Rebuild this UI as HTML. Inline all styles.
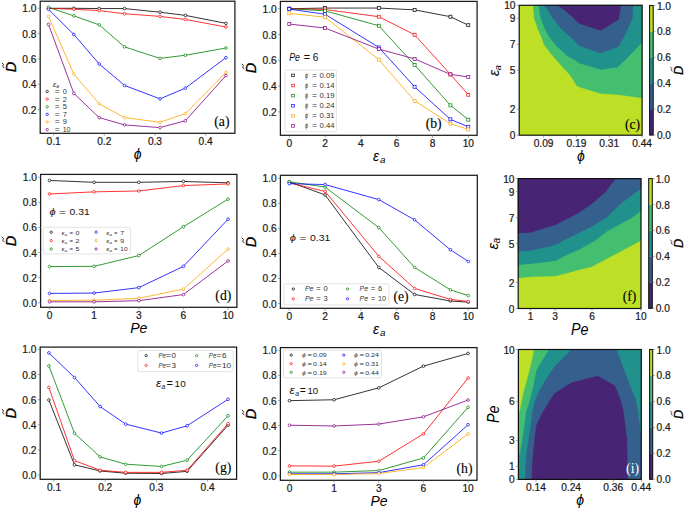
<!DOCTYPE html><html><head><meta charset="utf-8"><style>html,body{margin:0;padding:0;background:#fff;overflow:hidden;width:685px;height:509px;}svg{display:block}</style></head><body>
<svg width="685" height="509" viewBox="0 0 685 509">
<rect width="685" height="509" fill="#fff"/>
<path d="M48.5,8.3 L73.85,8.3 L99.2,8.55 L124.55,8.55 L160.04,12.22 L185.39,15.38 L225.95,23.35" fill="none" stroke="#000000" stroke-width="0.8" stroke-linejoin="round"/>
<circle cx="48.5" cy="8.3" r="1.35" fill="#fff" stroke="#000000" stroke-width="0.7"/>
<circle cx="73.85" cy="8.3" r="1.35" fill="#fff" stroke="#000000" stroke-width="0.7"/>
<circle cx="99.2" cy="8.55" r="1.35" fill="#fff" stroke="#000000" stroke-width="0.7"/>
<circle cx="124.55" cy="8.55" r="1.35" fill="#fff" stroke="#000000" stroke-width="0.7"/>
<circle cx="160.04" cy="12.22" r="1.35" fill="#fff" stroke="#000000" stroke-width="0.7"/>
<circle cx="185.39" cy="15.38" r="1.35" fill="#fff" stroke="#000000" stroke-width="0.7"/>
<circle cx="225.95" cy="23.35" r="1.35" fill="#fff" stroke="#000000" stroke-width="0.7"/>
<path d="M48.5,8.3 L73.85,9.31 L99.2,10.58 L124.55,13.74 L160.04,16.4 L185.39,19.43 L225.95,27.02" fill="none" stroke="#ff0000" stroke-width="0.8" stroke-linejoin="round"/>
<circle cx="48.5" cy="8.3" r="1.35" fill="#fff" stroke="#ff0000" stroke-width="0.7"/>
<circle cx="73.85" cy="9.31" r="1.35" fill="#fff" stroke="#ff0000" stroke-width="0.7"/>
<circle cx="99.2" cy="10.58" r="1.35" fill="#fff" stroke="#ff0000" stroke-width="0.7"/>
<circle cx="124.55" cy="13.74" r="1.35" fill="#fff" stroke="#ff0000" stroke-width="0.7"/>
<circle cx="160.04" cy="16.4" r="1.35" fill="#fff" stroke="#ff0000" stroke-width="0.7"/>
<circle cx="185.39" cy="19.43" r="1.35" fill="#fff" stroke="#ff0000" stroke-width="0.7"/>
<circle cx="225.95" cy="27.02" r="1.35" fill="#fff" stroke="#ff0000" stroke-width="0.7"/>
<path d="M48.5,7.29 L73.85,15.89 L99.2,24.87 L124.55,46.88 L160.04,58.39 L185.39,55.23 L225.95,48.02" fill="none" stroke="#008000" stroke-width="0.8" stroke-linejoin="round"/>
<circle cx="48.5" cy="7.29" r="1.35" fill="#fff" stroke="#008000" stroke-width="0.7"/>
<circle cx="73.85" cy="15.89" r="1.35" fill="#fff" stroke="#008000" stroke-width="0.7"/>
<circle cx="99.2" cy="24.87" r="1.35" fill="#fff" stroke="#008000" stroke-width="0.7"/>
<circle cx="124.55" cy="46.88" r="1.35" fill="#fff" stroke="#008000" stroke-width="0.7"/>
<circle cx="160.04" cy="58.39" r="1.35" fill="#fff" stroke="#008000" stroke-width="0.7"/>
<circle cx="185.39" cy="55.23" r="1.35" fill="#fff" stroke="#008000" stroke-width="0.7"/>
<circle cx="225.95" cy="48.02" r="1.35" fill="#fff" stroke="#008000" stroke-width="0.7"/>
<path d="M48.5,9.31 L73.85,34.49 L99.2,63.96 L124.55,85.46 L160.04,98.87 L185.39,88.12 L225.95,57.64" fill="none" stroke="#0000ff" stroke-width="0.8" stroke-linejoin="round"/>
<circle cx="48.5" cy="9.31" r="1.35" fill="#fff" stroke="#0000ff" stroke-width="0.7"/>
<circle cx="73.85" cy="34.49" r="1.35" fill="#fff" stroke="#0000ff" stroke-width="0.7"/>
<circle cx="99.2" cy="63.96" r="1.35" fill="#fff" stroke="#0000ff" stroke-width="0.7"/>
<circle cx="124.55" cy="85.46" r="1.35" fill="#fff" stroke="#0000ff" stroke-width="0.7"/>
<circle cx="160.04" cy="98.87" r="1.35" fill="#fff" stroke="#0000ff" stroke-width="0.7"/>
<circle cx="185.39" cy="88.12" r="1.35" fill="#fff" stroke="#0000ff" stroke-width="0.7"/>
<circle cx="225.95" cy="57.64" r="1.35" fill="#fff" stroke="#0000ff" stroke-width="0.7"/>
<path d="M48.5,16.4 L73.85,74.08 L99.2,103.81 L124.55,117.6 L160.04,122.28 L185.39,113.55 L225.95,72.44" fill="none" stroke="#ffa500" stroke-width="0.8" stroke-linejoin="round"/>
<circle cx="48.5" cy="16.4" r="1.35" fill="#fff" stroke="#ffa500" stroke-width="0.7"/>
<circle cx="73.85" cy="74.08" r="1.35" fill="#fff" stroke="#ffa500" stroke-width="0.7"/>
<circle cx="99.2" cy="103.81" r="1.35" fill="#fff" stroke="#ffa500" stroke-width="0.7"/>
<circle cx="124.55" cy="117.6" r="1.35" fill="#fff" stroke="#ffa500" stroke-width="0.7"/>
<circle cx="160.04" cy="122.28" r="1.35" fill="#fff" stroke="#ffa500" stroke-width="0.7"/>
<circle cx="185.39" cy="113.55" r="1.35" fill="#fff" stroke="#ffa500" stroke-width="0.7"/>
<circle cx="225.95" cy="72.44" r="1.35" fill="#fff" stroke="#ffa500" stroke-width="0.7"/>
<path d="M48.5,24.37 L73.85,93.43 L99.2,117.6 L124.55,124.93 L160.04,127.59 L185.39,120.76 L225.95,75.6" fill="none" stroke="#800080" stroke-width="0.8" stroke-linejoin="round"/>
<circle cx="48.5" cy="24.37" r="1.35" fill="#fff" stroke="#800080" stroke-width="0.7"/>
<circle cx="73.85" cy="93.43" r="1.35" fill="#fff" stroke="#800080" stroke-width="0.7"/>
<circle cx="99.2" cy="117.6" r="1.35" fill="#fff" stroke="#800080" stroke-width="0.7"/>
<circle cx="124.55" cy="124.93" r="1.35" fill="#fff" stroke="#800080" stroke-width="0.7"/>
<circle cx="160.04" cy="127.59" r="1.35" fill="#fff" stroke="#800080" stroke-width="0.7"/>
<circle cx="185.39" cy="120.76" r="1.35" fill="#fff" stroke="#800080" stroke-width="0.7"/>
<circle cx="225.95" cy="75.6" r="1.35" fill="#fff" stroke="#800080" stroke-width="0.7"/>
<rect x="40.2" y="1.2" width="194.7" height="132.1" fill="none" stroke="#1a1a1a" stroke-width="1.25"/>
<line x1="37.8" y1="109.5" x2="40.2" y2="109.5" stroke="#666" stroke-width="0.6"/>
<text x="36.5" y="113.51" font-size="10.2" font-family='"Liberation Sans", sans-serif' font-style="normal" text-anchor="end" fill="#1a1a1a" stroke="#1a1a1a" stroke-width="0.22" textLength="14.15" lengthAdjust="spacingAndGlyphs">0.2</text>
<line x1="37.8" y1="84.2" x2="40.2" y2="84.2" stroke="#666" stroke-width="0.6"/>
<text x="36.5" y="88.21" font-size="10.2" font-family='"Liberation Sans", sans-serif' font-style="normal" text-anchor="end" fill="#1a1a1a" stroke="#1a1a1a" stroke-width="0.22" textLength="14.15" lengthAdjust="spacingAndGlyphs">0.4</text>
<line x1="37.8" y1="58.9" x2="40.2" y2="58.9" stroke="#666" stroke-width="0.6"/>
<text x="36.5" y="62.91" font-size="10.2" font-family='"Liberation Sans", sans-serif' font-style="normal" text-anchor="end" fill="#1a1a1a" stroke="#1a1a1a" stroke-width="0.22" textLength="14.15" lengthAdjust="spacingAndGlyphs">0.6</text>
<line x1="37.8" y1="33.6" x2="40.2" y2="33.6" stroke="#666" stroke-width="0.6"/>
<text x="36.5" y="37.61" font-size="10.2" font-family='"Liberation Sans", sans-serif' font-style="normal" text-anchor="end" fill="#1a1a1a" stroke="#1a1a1a" stroke-width="0.22" textLength="14.15" lengthAdjust="spacingAndGlyphs">0.8</text>
<line x1="37.8" y1="8.3" x2="40.2" y2="8.3" stroke="#666" stroke-width="0.6"/>
<text x="36.5" y="12.31" font-size="10.2" font-family='"Liberation Sans", sans-serif' font-style="normal" text-anchor="end" fill="#1a1a1a" stroke="#1a1a1a" stroke-width="0.22" textLength="14.15" lengthAdjust="spacingAndGlyphs">1.0</text>
<line x1="53.57" y1="133.3" x2="53.57" y2="135.7" stroke="#666" stroke-width="0.6"/>
<text x="53.57" y="144.9" font-size="10.2" font-family='"Liberation Sans", sans-serif' font-style="normal" text-anchor="middle" fill="#1a1a1a" stroke="#1a1a1a" stroke-width="0.22" textLength="14.15" lengthAdjust="spacingAndGlyphs">0.1</text>
<line x1="104.27" y1="133.3" x2="104.27" y2="135.7" stroke="#666" stroke-width="0.6"/>
<text x="104.27" y="144.9" font-size="10.2" font-family='"Liberation Sans", sans-serif' font-style="normal" text-anchor="middle" fill="#1a1a1a" stroke="#1a1a1a" stroke-width="0.22" textLength="14.15" lengthAdjust="spacingAndGlyphs">0.2</text>
<line x1="154.97" y1="133.3" x2="154.97" y2="135.7" stroke="#666" stroke-width="0.6"/>
<text x="154.97" y="144.9" font-size="10.2" font-family='"Liberation Sans", sans-serif' font-style="normal" text-anchor="middle" fill="#1a1a1a" stroke="#1a1a1a" stroke-width="0.22" textLength="14.15" lengthAdjust="spacingAndGlyphs">0.3</text>
<line x1="205.67" y1="133.3" x2="205.67" y2="135.7" stroke="#666" stroke-width="0.6"/>
<text x="205.67" y="144.9" font-size="10.2" font-family='"Liberation Sans", sans-serif' font-style="normal" text-anchor="middle" fill="#1a1a1a" stroke="#1a1a1a" stroke-width="0.22" textLength="14.15" lengthAdjust="spacingAndGlyphs">0.4</text>
<text x="52.7" y="86.7" font-size="7.0" font-family='"Liberation Sans", sans-serif' font-style="italic" fill="#333" textLength="3.7" lengthAdjust="spacingAndGlyphs">ε</text>
<text x="56.3" y="87.8" font-size="5.0" font-family='"Liberation Sans", sans-serif' font-style="italic" fill="#333" textLength="2.8" lengthAdjust="spacingAndGlyphs">a</text>
<circle cx="47.2" cy="91.5" r="1.2" fill="#fff" stroke="#000000" stroke-width="0.7"/>
<text x="54.8" y="94" font-size="7.2" font-family='"Liberation Sans", sans-serif' font-style="normal" fill="#333" textLength="4.9" lengthAdjust="spacingAndGlyphs">=</text>
<text x="62.7" y="94" font-size="7.2" font-family='"Liberation Sans", sans-serif' font-style="normal" fill="#333" textLength="4.1" lengthAdjust="spacingAndGlyphs">0</text>
<circle cx="47.2" cy="99.12" r="1.2" fill="#fff" stroke="#ff0000" stroke-width="0.7"/>
<text x="54.8" y="101.62" font-size="7.2" font-family='"Liberation Sans", sans-serif' font-style="normal" fill="#333" textLength="4.9" lengthAdjust="spacingAndGlyphs">=</text>
<text x="62.7" y="101.62" font-size="7.2" font-family='"Liberation Sans", sans-serif' font-style="normal" fill="#333" textLength="4.1" lengthAdjust="spacingAndGlyphs">2</text>
<circle cx="47.2" cy="106.74" r="1.2" fill="#fff" stroke="#008000" stroke-width="0.7"/>
<text x="54.8" y="109.24" font-size="7.2" font-family='"Liberation Sans", sans-serif' font-style="normal" fill="#333" textLength="4.9" lengthAdjust="spacingAndGlyphs">=</text>
<text x="62.7" y="109.24" font-size="7.2" font-family='"Liberation Sans", sans-serif' font-style="normal" fill="#333" textLength="4.1" lengthAdjust="spacingAndGlyphs">5</text>
<circle cx="47.2" cy="114.36" r="1.2" fill="#fff" stroke="#0000ff" stroke-width="0.7"/>
<text x="54.8" y="116.86" font-size="7.2" font-family='"Liberation Sans", sans-serif' font-style="normal" fill="#333" textLength="4.9" lengthAdjust="spacingAndGlyphs">=</text>
<text x="62.7" y="116.86" font-size="7.2" font-family='"Liberation Sans", sans-serif' font-style="normal" fill="#333" textLength="4.1" lengthAdjust="spacingAndGlyphs">7</text>
<circle cx="47.2" cy="121.98" r="1.2" fill="#fff" stroke="#ffa500" stroke-width="0.7"/>
<text x="54.8" y="124.48" font-size="7.2" font-family='"Liberation Sans", sans-serif' font-style="normal" fill="#333" textLength="4.9" lengthAdjust="spacingAndGlyphs">=</text>
<text x="62.7" y="124.48" font-size="7.2" font-family='"Liberation Sans", sans-serif' font-style="normal" fill="#333" textLength="4.1" lengthAdjust="spacingAndGlyphs">9</text>
<circle cx="47.2" cy="129.6" r="1.2" fill="#fff" stroke="#800080" stroke-width="0.7"/>
<text x="54.8" y="132.1" font-size="7.2" font-family='"Liberation Sans", sans-serif' font-style="normal" fill="#333" textLength="4.9" lengthAdjust="spacingAndGlyphs">=</text>
<text x="62.7" y="132.1" font-size="7.2" font-family='"Liberation Sans", sans-serif' font-style="normal" fill="#333" textLength="7.8" lengthAdjust="spacingAndGlyphs">10</text>
<text x="229.5" y="125.5" font-size="13.7" font-family='"Liberation Serif", serif' font-style="normal" text-anchor="end" fill="#000" stroke="#000" stroke-width="0.12">(a)</text>
<g transform="translate(16.1,67) rotate(-90)">
<text x="0" y="0" font-size="14.5" font-family='"Liberation Sans", sans-serif' font-style="italic" text-anchor="middle" fill="#000" stroke="#000" stroke-width="0.3">D</text>
<path d="M-0.71,-12.06 C0.06,-13.85 0.99,-13.51 1.5,-13 C2.01,-12.49 2.95,-12.15 3.71,-13.94" fill="none" stroke="#000" stroke-width="0.85" stroke-linecap="round"/>
</g>
<text x="137.6" y="158.5" font-size="14" font-family='"Liberation Sans", sans-serif' font-style="italic" text-anchor="middle" fill="#000" >ϕ</text>
<path d="M289.3,8.7 L325.1,8.06 L378.8,8.06 L414.6,9.86 L450.4,16.7 L468.3,25.21" fill="none" stroke="#000000" stroke-width="0.8" stroke-linejoin="round"/>
<rect x="287.81" y="7.21" width="2.97" height="2.97" fill="#fff" stroke="#000000" stroke-width="0.7"/>
<rect x="323.62" y="6.57" width="2.97" height="2.97" fill="#fff" stroke="#000000" stroke-width="0.7"/>
<rect x="377.31" y="6.57" width="2.97" height="2.97" fill="#fff" stroke="#000000" stroke-width="0.7"/>
<rect x="413.12" y="8.38" width="2.97" height="2.97" fill="#fff" stroke="#000000" stroke-width="0.7"/>
<rect x="448.91" y="15.21" width="2.97" height="2.97" fill="#fff" stroke="#000000" stroke-width="0.7"/>
<rect x="466.81" y="23.73" width="2.97" height="2.97" fill="#fff" stroke="#000000" stroke-width="0.7"/>
<path d="M289.3,8.7 L325.1,9.47 L378.8,16.7 L414.6,34.76 L450.4,74.36 L468.3,94.74" fill="none" stroke="#ff0000" stroke-width="0.8" stroke-linejoin="round"/>
<rect x="287.81" y="7.21" width="2.97" height="2.97" fill="#fff" stroke="#ff0000" stroke-width="0.7"/>
<rect x="323.62" y="7.99" width="2.97" height="2.97" fill="#fff" stroke="#ff0000" stroke-width="0.7"/>
<rect x="377.31" y="15.21" width="2.97" height="2.97" fill="#fff" stroke="#ff0000" stroke-width="0.7"/>
<rect x="413.12" y="33.27" width="2.97" height="2.97" fill="#fff" stroke="#ff0000" stroke-width="0.7"/>
<rect x="448.91" y="72.88" width="2.97" height="2.97" fill="#fff" stroke="#ff0000" stroke-width="0.7"/>
<rect x="466.81" y="93.26" width="2.97" height="2.97" fill="#fff" stroke="#ff0000" stroke-width="0.7"/>
<path d="M289.3,8.7 L325.1,10.89 L378.8,25.73 L414.6,64.94 L450.4,105.32 L468.3,119.64" fill="none" stroke="#008000" stroke-width="0.8" stroke-linejoin="round"/>
<rect x="287.81" y="7.21" width="2.97" height="2.97" fill="#fff" stroke="#008000" stroke-width="0.7"/>
<rect x="323.62" y="9.41" width="2.97" height="2.97" fill="#fff" stroke="#008000" stroke-width="0.7"/>
<rect x="377.31" y="24.24" width="2.97" height="2.97" fill="#fff" stroke="#008000" stroke-width="0.7"/>
<rect x="413.12" y="63.46" width="2.97" height="2.97" fill="#fff" stroke="#008000" stroke-width="0.7"/>
<rect x="448.91" y="103.84" width="2.97" height="2.97" fill="#fff" stroke="#008000" stroke-width="0.7"/>
<rect x="466.81" y="118.16" width="2.97" height="2.97" fill="#fff" stroke="#008000" stroke-width="0.7"/>
<path d="M289.3,9.09 L325.1,14.25 L378.8,47.4 L414.6,86.75 L450.4,119.38 L468.3,126.74" fill="none" stroke="#0000ff" stroke-width="0.8" stroke-linejoin="round"/>
<rect x="287.81" y="7.6" width="2.97" height="2.97" fill="#fff" stroke="#0000ff" stroke-width="0.7"/>
<rect x="323.62" y="12.76" width="2.97" height="2.97" fill="#fff" stroke="#0000ff" stroke-width="0.7"/>
<rect x="377.31" y="45.92" width="2.97" height="2.97" fill="#fff" stroke="#0000ff" stroke-width="0.7"/>
<rect x="413.12" y="85.26" width="2.97" height="2.97" fill="#fff" stroke="#0000ff" stroke-width="0.7"/>
<rect x="448.91" y="117.9" width="2.97" height="2.97" fill="#fff" stroke="#0000ff" stroke-width="0.7"/>
<rect x="466.81" y="125.25" width="2.97" height="2.97" fill="#fff" stroke="#0000ff" stroke-width="0.7"/>
<path d="M289.3,13.34 L325.1,17.21 L378.8,59.66 L414.6,100.81 L450.4,123.64 L468.3,129.44" fill="none" stroke="#ffa500" stroke-width="0.8" stroke-linejoin="round"/>
<rect x="287.81" y="11.86" width="2.97" height="2.97" fill="#fff" stroke="#ffa500" stroke-width="0.7"/>
<rect x="323.62" y="15.73" width="2.97" height="2.97" fill="#fff" stroke="#ffa500" stroke-width="0.7"/>
<rect x="377.31" y="58.17" width="2.97" height="2.97" fill="#fff" stroke="#ffa500" stroke-width="0.7"/>
<rect x="413.12" y="99.32" width="2.97" height="2.97" fill="#fff" stroke="#ffa500" stroke-width="0.7"/>
<rect x="448.91" y="122.15" width="2.97" height="2.97" fill="#fff" stroke="#ffa500" stroke-width="0.7"/>
<rect x="466.81" y="127.96" width="2.97" height="2.97" fill="#fff" stroke="#ffa500" stroke-width="0.7"/>
<path d="M289.3,24.05 L325.1,28.05 L378.8,49.08 L414.6,58.88 L450.4,74.36 L468.3,76.94" fill="none" stroke="#800080" stroke-width="0.8" stroke-linejoin="round"/>
<rect x="287.81" y="22.57" width="2.97" height="2.97" fill="#fff" stroke="#800080" stroke-width="0.7"/>
<rect x="323.62" y="26.57" width="2.97" height="2.97" fill="#fff" stroke="#800080" stroke-width="0.7"/>
<rect x="377.31" y="47.59" width="2.97" height="2.97" fill="#fff" stroke="#800080" stroke-width="0.7"/>
<rect x="413.12" y="57.4" width="2.97" height="2.97" fill="#fff" stroke="#800080" stroke-width="0.7"/>
<rect x="448.91" y="72.88" width="2.97" height="2.97" fill="#fff" stroke="#800080" stroke-width="0.7"/>
<rect x="466.81" y="75.46" width="2.97" height="2.97" fill="#fff" stroke="#800080" stroke-width="0.7"/>
<rect x="280.4" y="1.4" width="196.7" height="133.9" fill="none" stroke="#1a1a1a" stroke-width="1.25"/>
<line x1="278" y1="111.9" x2="280.4" y2="111.9" stroke="#666" stroke-width="0.6"/>
<text x="276.7" y="115.91" font-size="10.2" font-family='"Liberation Sans", sans-serif' font-style="normal" text-anchor="end" fill="#1a1a1a" stroke="#1a1a1a" stroke-width="0.22" textLength="14.15" lengthAdjust="spacingAndGlyphs">0.2</text>
<line x1="278" y1="86.1" x2="280.4" y2="86.1" stroke="#666" stroke-width="0.6"/>
<text x="276.7" y="90.11" font-size="10.2" font-family='"Liberation Sans", sans-serif' font-style="normal" text-anchor="end" fill="#1a1a1a" stroke="#1a1a1a" stroke-width="0.22" textLength="14.15" lengthAdjust="spacingAndGlyphs">0.4</text>
<line x1="278" y1="60.3" x2="280.4" y2="60.3" stroke="#666" stroke-width="0.6"/>
<text x="276.7" y="64.31" font-size="10.2" font-family='"Liberation Sans", sans-serif' font-style="normal" text-anchor="end" fill="#1a1a1a" stroke="#1a1a1a" stroke-width="0.22" textLength="14.15" lengthAdjust="spacingAndGlyphs">0.6</text>
<line x1="278" y1="34.5" x2="280.4" y2="34.5" stroke="#666" stroke-width="0.6"/>
<text x="276.7" y="38.51" font-size="10.2" font-family='"Liberation Sans", sans-serif' font-style="normal" text-anchor="end" fill="#1a1a1a" stroke="#1a1a1a" stroke-width="0.22" textLength="14.15" lengthAdjust="spacingAndGlyphs">0.8</text>
<line x1="278" y1="8.7" x2="280.4" y2="8.7" stroke="#666" stroke-width="0.6"/>
<text x="276.7" y="12.71" font-size="10.2" font-family='"Liberation Sans", sans-serif' font-style="normal" text-anchor="end" fill="#1a1a1a" stroke="#1a1a1a" stroke-width="0.22" textLength="14.15" lengthAdjust="spacingAndGlyphs">1.0</text>
<line x1="289.3" y1="135.3" x2="289.3" y2="137.7" stroke="#666" stroke-width="0.6"/>
<text x="289.3" y="146.9" font-size="10.2" font-family='"Liberation Sans", sans-serif' font-style="normal" text-anchor="middle" fill="#1a1a1a" stroke="#1a1a1a" stroke-width="0.22" textLength="5.66" lengthAdjust="spacingAndGlyphs">0</text>
<line x1="325.1" y1="135.3" x2="325.1" y2="137.7" stroke="#666" stroke-width="0.6"/>
<text x="325.1" y="146.9" font-size="10.2" font-family='"Liberation Sans", sans-serif' font-style="normal" text-anchor="middle" fill="#1a1a1a" stroke="#1a1a1a" stroke-width="0.22" textLength="5.66" lengthAdjust="spacingAndGlyphs">2</text>
<line x1="360.9" y1="135.3" x2="360.9" y2="137.7" stroke="#666" stroke-width="0.6"/>
<text x="360.9" y="146.9" font-size="10.2" font-family='"Liberation Sans", sans-serif' font-style="normal" text-anchor="middle" fill="#1a1a1a" stroke="#1a1a1a" stroke-width="0.22" textLength="5.66" lengthAdjust="spacingAndGlyphs">4</text>
<line x1="396.7" y1="135.3" x2="396.7" y2="137.7" stroke="#666" stroke-width="0.6"/>
<text x="396.7" y="146.9" font-size="10.2" font-family='"Liberation Sans", sans-serif' font-style="normal" text-anchor="middle" fill="#1a1a1a" stroke="#1a1a1a" stroke-width="0.22" textLength="5.66" lengthAdjust="spacingAndGlyphs">6</text>
<line x1="432.5" y1="135.3" x2="432.5" y2="137.7" stroke="#666" stroke-width="0.6"/>
<text x="432.5" y="146.9" font-size="10.2" font-family='"Liberation Sans", sans-serif' font-style="normal" text-anchor="middle" fill="#1a1a1a" stroke="#1a1a1a" stroke-width="0.22" textLength="5.66" lengthAdjust="spacingAndGlyphs">8</text>
<line x1="468.3" y1="135.3" x2="468.3" y2="137.7" stroke="#666" stroke-width="0.6"/>
<text x="468.3" y="146.9" font-size="10.2" font-family='"Liberation Sans", sans-serif' font-style="normal" text-anchor="middle" fill="#1a1a1a" stroke="#1a1a1a" stroke-width="0.22" textLength="11.32" lengthAdjust="spacingAndGlyphs">10</text>
<rect x="284.8" y="70" width="51.6" height="61.7" rx="1.5" fill="#fff" fill-opacity="0.8" stroke="#dcdcdc" stroke-width="0.8"/>
<rect x="291.68" y="74.08" width="2.64" height="2.64" fill="#fff" stroke="#000000" stroke-width="0.7"/>
<text x="305.1" y="77.7" font-size="6.6" font-family='"Liberation Sans", sans-serif' font-style="italic" fill="#333" textLength="3" lengthAdjust="spacingAndGlyphs">ϕ</text>
<text x="311.9" y="77.7" font-size="6.6" font-family='"Liberation Sans", sans-serif' font-style="normal" fill="#333" textLength="5" lengthAdjust="spacingAndGlyphs">=</text>
<text x="319.5" y="77.7" font-size="6.6" font-family='"Liberation Sans", sans-serif' font-style="normal" fill="#333" textLength="15.1" lengthAdjust="spacingAndGlyphs">0.09</text>
<rect x="291.68" y="84.18" width="2.64" height="2.64" fill="#fff" stroke="#ff0000" stroke-width="0.7"/>
<text x="305.1" y="87.8" font-size="6.6" font-family='"Liberation Sans", sans-serif' font-style="italic" fill="#333" textLength="3" lengthAdjust="spacingAndGlyphs">ϕ</text>
<text x="311.9" y="87.8" font-size="6.6" font-family='"Liberation Sans", sans-serif' font-style="normal" fill="#333" textLength="5" lengthAdjust="spacingAndGlyphs">=</text>
<text x="319.5" y="87.8" font-size="6.6" font-family='"Liberation Sans", sans-serif' font-style="normal" fill="#333" textLength="15.1" lengthAdjust="spacingAndGlyphs">0.14</text>
<rect x="291.68" y="94.28" width="2.64" height="2.64" fill="#fff" stroke="#008000" stroke-width="0.7"/>
<text x="305.1" y="97.9" font-size="6.6" font-family='"Liberation Sans", sans-serif' font-style="italic" fill="#333" textLength="3" lengthAdjust="spacingAndGlyphs">ϕ</text>
<text x="311.9" y="97.9" font-size="6.6" font-family='"Liberation Sans", sans-serif' font-style="normal" fill="#333" textLength="5" lengthAdjust="spacingAndGlyphs">=</text>
<text x="319.5" y="97.9" font-size="6.6" font-family='"Liberation Sans", sans-serif' font-style="normal" fill="#333" textLength="15.1" lengthAdjust="spacingAndGlyphs">0.19</text>
<rect x="291.68" y="104.38" width="2.64" height="2.64" fill="#fff" stroke="#0000ff" stroke-width="0.7"/>
<text x="305.1" y="108" font-size="6.6" font-family='"Liberation Sans", sans-serif' font-style="italic" fill="#333" textLength="3" lengthAdjust="spacingAndGlyphs">ϕ</text>
<text x="311.9" y="108" font-size="6.6" font-family='"Liberation Sans", sans-serif' font-style="normal" fill="#333" textLength="5" lengthAdjust="spacingAndGlyphs">=</text>
<text x="319.5" y="108" font-size="6.6" font-family='"Liberation Sans", sans-serif' font-style="normal" fill="#333" textLength="15.1" lengthAdjust="spacingAndGlyphs">0.24</text>
<rect x="291.68" y="114.48" width="2.64" height="2.64" fill="#fff" stroke="#ffa500" stroke-width="0.7"/>
<text x="305.1" y="118.1" font-size="6.6" font-family='"Liberation Sans", sans-serif' font-style="italic" fill="#333" textLength="3" lengthAdjust="spacingAndGlyphs">ϕ</text>
<text x="311.9" y="118.1" font-size="6.6" font-family='"Liberation Sans", sans-serif' font-style="normal" fill="#333" textLength="5" lengthAdjust="spacingAndGlyphs">=</text>
<text x="319.5" y="118.1" font-size="6.6" font-family='"Liberation Sans", sans-serif' font-style="normal" fill="#333" textLength="15.1" lengthAdjust="spacingAndGlyphs">0.31</text>
<rect x="291.68" y="124.58" width="2.64" height="2.64" fill="#fff" stroke="#800080" stroke-width="0.7"/>
<text x="305.1" y="128.2" font-size="6.6" font-family='"Liberation Sans", sans-serif' font-style="italic" fill="#333" textLength="3" lengthAdjust="spacingAndGlyphs">ϕ</text>
<text x="311.9" y="128.2" font-size="6.6" font-family='"Liberation Sans", sans-serif' font-style="normal" fill="#333" textLength="5" lengthAdjust="spacingAndGlyphs">=</text>
<text x="319.5" y="128.2" font-size="6.6" font-family='"Liberation Sans", sans-serif' font-style="normal" fill="#333" textLength="15.1" lengthAdjust="spacingAndGlyphs">0.44</text>
<text x="289.2" y="60.5" font-size="10.4" font-family='"Liberation Sans", sans-serif' font-style="italic" fill="#111" textLength="10.8" lengthAdjust="spacingAndGlyphs">Pe</text>
<text x="303.7" y="60.5" font-size="10.4" font-family='"Liberation Sans", sans-serif' font-style="normal" fill="#111" textLength="6.4" lengthAdjust="spacingAndGlyphs">=</text>
<text x="312.8" y="60.5" font-size="10.4" font-family='"Liberation Sans", sans-serif' font-style="normal" fill="#111" textLength="5.6" lengthAdjust="spacingAndGlyphs">6</text>
<text x="441.7" y="127.8" font-size="13.7" font-family='"Liberation Serif", serif' font-style="normal" text-anchor="end" fill="#000" stroke="#000" stroke-width="0.12">(b)</text>
<g transform="translate(256.1,68) rotate(-90)">
<text x="0" y="0" font-size="14.5" font-family='"Liberation Sans", sans-serif' font-style="italic" text-anchor="middle" fill="#000" stroke="#000" stroke-width="0.3">D</text>
<path d="M-0.71,-12.06 C0.06,-13.85 0.99,-13.51 1.5,-13 C2.01,-12.49 2.95,-12.15 3.71,-13.94" fill="none" stroke="#000" stroke-width="0.85" stroke-linecap="round"/>
</g>
<text x="373" y="161.1" font-size="14" font-family='"Liberation Sans", sans-serif' font-style="italic" text-anchor="start" fill="#000" >ε</text>
<text x="380" y="163.2" font-size="9.8" font-family='"Liberation Sans", sans-serif' font-style="italic" text-anchor="start" fill="#000" >a</text>
<rect x="519.2" y="5.3" width="122.9" height="129.9" fill="#bddf26"/>
<polygon points="533.1,5.3 534.1,18.1 538.1,29.3 541.4,37.2 544,44.5 552.6,55.7 556.5,60 565.7,70.5 569.7,74.5 576.9,85.7 581,87.6 600.7,93.6 617.2,94.5 642.1,97.9 642.1,5.3" fill="#44bf70" stroke="#44bf70" stroke-width="0.3"/>
<polygon points="538.7,5.3 540.7,18.1 544,26.7 548.6,35.9 555.2,44.5 567,55.7 575,60 579,63 600.7,69.5 617.2,67.3 625.1,60 642.1,42.5 642.1,5.3" fill="#21918c" stroke="#21918c" stroke-width="0.3"/>
<polygon points="544,5.3 548.6,10.9 552.6,18.1 561.8,29.3 571,37.2 579,45.8 600.7,53 618.5,46.4 625.1,34.6 632.3,18.8 633,5.3" fill="#355f8d" stroke="#355f8d" stroke-width="0.3"/>
<polygon points="557.8,5.3 565.7,10.9 573.6,18.1 579,23.4 600.7,30.6 618.5,19.5 621.1,5.3" fill="#482475" stroke="#482475" stroke-width="0.3"/>
<rect x="519.2" y="5.3" width="122.9" height="129.9" fill="none" stroke="#111" stroke-width="1.2"/>
<line x1="516.8" y1="135.2" x2="519.2" y2="135.2" stroke="#666" stroke-width="0.6"/>
<text x="515.5" y="139.21" font-size="10.2" font-family='"Liberation Sans", sans-serif' font-style="normal" text-anchor="end" fill="#1a1a1a" stroke="#1a1a1a" stroke-width="0.22" textLength="5.66" lengthAdjust="spacingAndGlyphs">0</text>
<line x1="516.8" y1="109.22" x2="519.2" y2="109.22" stroke="#666" stroke-width="0.6"/>
<text x="515.5" y="113.23" font-size="10.2" font-family='"Liberation Sans", sans-serif' font-style="normal" text-anchor="end" fill="#1a1a1a" stroke="#1a1a1a" stroke-width="0.22" textLength="5.66" lengthAdjust="spacingAndGlyphs">2</text>
<line x1="516.8" y1="70.25" x2="519.2" y2="70.25" stroke="#666" stroke-width="0.6"/>
<text x="515.5" y="74.26" font-size="10.2" font-family='"Liberation Sans", sans-serif' font-style="normal" text-anchor="end" fill="#1a1a1a" stroke="#1a1a1a" stroke-width="0.22" textLength="5.66" lengthAdjust="spacingAndGlyphs">5</text>
<line x1="516.8" y1="44.27" x2="519.2" y2="44.27" stroke="#666" stroke-width="0.6"/>
<text x="515.5" y="48.28" font-size="10.2" font-family='"Liberation Sans", sans-serif' font-style="normal" text-anchor="end" fill="#1a1a1a" stroke="#1a1a1a" stroke-width="0.22" textLength="5.66" lengthAdjust="spacingAndGlyphs">7</text>
<line x1="516.8" y1="18.29" x2="519.2" y2="18.29" stroke="#666" stroke-width="0.6"/>
<text x="515.5" y="22.3" font-size="10.2" font-family='"Liberation Sans", sans-serif' font-style="normal" text-anchor="end" fill="#1a1a1a" stroke="#1a1a1a" stroke-width="0.22" textLength="5.66" lengthAdjust="spacingAndGlyphs">9</text>
<line x1="516.8" y1="5.3" x2="519.2" y2="5.3" stroke="#666" stroke-width="0.6"/>
<text x="515.5" y="9.31" font-size="10.2" font-family='"Liberation Sans", sans-serif' font-style="normal" text-anchor="end" fill="#1a1a1a" stroke="#1a1a1a" stroke-width="0.22" textLength="11.32" lengthAdjust="spacingAndGlyphs">10</text>
<line x1="543.6" y1="135.2" x2="543.6" y2="137.6" stroke="#666" stroke-width="0.6"/>
<text x="543.6" y="146.8" font-size="10.2" font-family='"Liberation Sans", sans-serif' font-style="normal" text-anchor="middle" fill="#1a1a1a" stroke="#1a1a1a" stroke-width="0.22" textLength="19.82" lengthAdjust="spacingAndGlyphs">0.09</text>
<line x1="576.4" y1="135.2" x2="576.4" y2="137.6" stroke="#666" stroke-width="0.6"/>
<text x="576.4" y="146.8" font-size="10.2" font-family='"Liberation Sans", sans-serif' font-style="normal" text-anchor="middle" fill="#1a1a1a" stroke="#1a1a1a" stroke-width="0.22" textLength="19.82" lengthAdjust="spacingAndGlyphs">0.19</text>
<line x1="609.2" y1="135.2" x2="609.2" y2="137.6" stroke="#666" stroke-width="0.6"/>
<text x="609.2" y="146.8" font-size="10.2" font-family='"Liberation Sans", sans-serif' font-style="normal" text-anchor="middle" fill="#1a1a1a" stroke="#1a1a1a" stroke-width="0.22" textLength="19.82" lengthAdjust="spacingAndGlyphs">0.31</text>
<line x1="642.1" y1="135.2" x2="642.1" y2="137.6" stroke="#666" stroke-width="0.6"/>
<text x="642.1" y="146.8" font-size="10.2" font-family='"Liberation Sans", sans-serif' font-style="normal" text-anchor="middle" fill="#1a1a1a" stroke="#1a1a1a" stroke-width="0.22" textLength="19.82" lengthAdjust="spacingAndGlyphs">0.44</text>
<text x="640.1" y="129.2" font-size="13.7" font-family='"Liberation Serif", serif' font-style="normal" text-anchor="end" fill="#000" stroke="#000" stroke-width="0.12">(c)</text>
<text x="577" y="160.6" font-size="14" font-family='"Liberation Sans", sans-serif' font-style="italic" text-anchor="start" fill="#000" >ϕ</text>
<g transform="translate(499.4,70.5) rotate(-90)">
<text x="0" y="0" font-size="14" font-family='"Liberation Sans", sans-serif' text-anchor="middle" fill="#000"><tspan font-style="italic">ε</tspan><tspan font-size="9.8" dx="-0.6" dy="1.4" font-style="italic">a</tspan></text>
</g>
<rect x="649.6" y="109.1" width="3.6" height="26.2" fill="#482475"/>
<rect x="649.6" y="83.2" width="3.6" height="26.2" fill="#355f8d"/>
<rect x="649.6" y="57.3" width="3.6" height="26.2" fill="#21918c"/>
<rect x="649.6" y="31.4" width="3.6" height="26.2" fill="#44bf70"/>
<rect x="649.6" y="5.5" width="3.6" height="26.2" fill="#bddf26"/>
<rect x="649.6" y="5.5" width="3.6" height="129.5" fill="none" stroke="#111" stroke-width="1.05"/>
<line x1="653.2" y1="135" x2="655.4" y2="135" stroke="#666" stroke-width="0.6"/>
<text x="656.9" y="139.01" font-size="10.2" font-family='"Liberation Sans", sans-serif' font-style="normal" text-anchor="start" fill="#1a1a1a" stroke="#1a1a1a" stroke-width="0.22" textLength="14.15" lengthAdjust="spacingAndGlyphs">0.0</text>
<line x1="653.2" y1="109.1" x2="655.4" y2="109.1" stroke="#666" stroke-width="0.6"/>
<text x="656.9" y="113.11" font-size="10.2" font-family='"Liberation Sans", sans-serif' font-style="normal" text-anchor="start" fill="#1a1a1a" stroke="#1a1a1a" stroke-width="0.22" textLength="14.15" lengthAdjust="spacingAndGlyphs">0.2</text>
<line x1="653.2" y1="83.2" x2="655.4" y2="83.2" stroke="#666" stroke-width="0.6"/>
<text x="656.9" y="87.21" font-size="10.2" font-family='"Liberation Sans", sans-serif' font-style="normal" text-anchor="start" fill="#1a1a1a" stroke="#1a1a1a" stroke-width="0.22" textLength="14.15" lengthAdjust="spacingAndGlyphs">0.4</text>
<line x1="653.2" y1="57.3" x2="655.4" y2="57.3" stroke="#666" stroke-width="0.6"/>
<text x="656.9" y="61.31" font-size="10.2" font-family='"Liberation Sans", sans-serif' font-style="normal" text-anchor="start" fill="#1a1a1a" stroke="#1a1a1a" stroke-width="0.22" textLength="14.15" lengthAdjust="spacingAndGlyphs">0.6</text>
<line x1="653.2" y1="31.4" x2="655.4" y2="31.4" stroke="#666" stroke-width="0.6"/>
<text x="656.9" y="35.41" font-size="10.2" font-family='"Liberation Sans", sans-serif' font-style="normal" text-anchor="start" fill="#1a1a1a" stroke="#1a1a1a" stroke-width="0.22" textLength="14.15" lengthAdjust="spacingAndGlyphs">0.8</text>
<line x1="653.2" y1="5.5" x2="655.4" y2="5.5" stroke="#666" stroke-width="0.6"/>
<text x="656.9" y="9.51" font-size="10.2" font-family='"Liberation Sans", sans-serif' font-style="normal" text-anchor="start" fill="#1a1a1a" stroke="#1a1a1a" stroke-width="0.22" textLength="14.15" lengthAdjust="spacingAndGlyphs">1.0</text>
<g transform="translate(682.9,70.5) rotate(-90)">
<text x="0" y="0" font-size="12.7" font-family='"Liberation Sans", sans-serif' font-style="italic" text-anchor="middle" fill="#000" stroke="#000" stroke-width="0.3">D</text>
<path d="M-0.62,-10.57 C0.05,-12.13 0.87,-11.83 1.31,-11.39 C1.76,-10.94 2.58,-10.64 3.25,-12.21" fill="none" stroke="#000" stroke-width="0.74" stroke-linecap="round"/>
</g>
<path d="M49.5,180.44 L94.15,182.32 L138.8,182.32 L183.45,181.44 L228.1,182.82" fill="none" stroke="#000000" stroke-width="0.8" stroke-linejoin="round"/>
<circle cx="49.5" cy="180.44" r="1.35" fill="#fff" stroke="#000000" stroke-width="0.7"/>
<circle cx="94.15" cy="182.32" r="1.35" fill="#fff" stroke="#000000" stroke-width="0.7"/>
<circle cx="138.8" cy="182.32" r="1.35" fill="#fff" stroke="#000000" stroke-width="0.7"/>
<circle cx="183.45" cy="181.44" r="1.35" fill="#fff" stroke="#000000" stroke-width="0.7"/>
<circle cx="228.1" cy="182.82" r="1.35" fill="#fff" stroke="#000000" stroke-width="0.7"/>
<path d="M49.5,193.98 L94.15,191.85 L138.8,190.97 L183.45,185.58 L228.1,183.95" fill="none" stroke="#ff0000" stroke-width="0.8" stroke-linejoin="round"/>
<circle cx="49.5" cy="193.98" r="1.35" fill="#fff" stroke="#ff0000" stroke-width="0.7"/>
<circle cx="94.15" cy="191.85" r="1.35" fill="#fff" stroke="#ff0000" stroke-width="0.7"/>
<circle cx="138.8" cy="190.97" r="1.35" fill="#fff" stroke="#ff0000" stroke-width="0.7"/>
<circle cx="183.45" cy="185.58" r="1.35" fill="#fff" stroke="#ff0000" stroke-width="0.7"/>
<circle cx="228.1" cy="183.95" r="1.35" fill="#fff" stroke="#ff0000" stroke-width="0.7"/>
<path d="M49.5,266.58 L94.15,266.33 L138.8,255.55 L183.45,226.71 L228.1,199.12" fill="none" stroke="#008000" stroke-width="0.8" stroke-linejoin="round"/>
<circle cx="49.5" cy="266.58" r="1.35" fill="#fff" stroke="#008000" stroke-width="0.7"/>
<circle cx="94.15" cy="266.33" r="1.35" fill="#fff" stroke="#008000" stroke-width="0.7"/>
<circle cx="138.8" cy="255.55" r="1.35" fill="#fff" stroke="#008000" stroke-width="0.7"/>
<circle cx="183.45" cy="226.71" r="1.35" fill="#fff" stroke="#008000" stroke-width="0.7"/>
<circle cx="228.1" cy="199.12" r="1.35" fill="#fff" stroke="#008000" stroke-width="0.7"/>
<path d="M49.5,293.42 L94.15,293.04 L138.8,287.65 L183.45,266.33 L228.1,219.18" fill="none" stroke="#0000ff" stroke-width="0.8" stroke-linejoin="round"/>
<circle cx="49.5" cy="293.42" r="1.35" fill="#fff" stroke="#0000ff" stroke-width="0.7"/>
<circle cx="94.15" cy="293.04" r="1.35" fill="#fff" stroke="#0000ff" stroke-width="0.7"/>
<circle cx="138.8" cy="287.65" r="1.35" fill="#fff" stroke="#0000ff" stroke-width="0.7"/>
<circle cx="183.45" cy="266.33" r="1.35" fill="#fff" stroke="#0000ff" stroke-width="0.7"/>
<circle cx="228.1" cy="219.18" r="1.35" fill="#fff" stroke="#0000ff" stroke-width="0.7"/>
<path d="M49.5,300.44 L94.15,300.19 L138.8,298.31 L183.45,289.16 L228.1,249.03" fill="none" stroke="#ffa500" stroke-width="0.8" stroke-linejoin="round"/>
<circle cx="49.5" cy="300.44" r="1.35" fill="#fff" stroke="#ffa500" stroke-width="0.7"/>
<circle cx="94.15" cy="300.19" r="1.35" fill="#fff" stroke="#ffa500" stroke-width="0.7"/>
<circle cx="138.8" cy="298.31" r="1.35" fill="#fff" stroke="#ffa500" stroke-width="0.7"/>
<circle cx="183.45" cy="289.16" r="1.35" fill="#fff" stroke="#ffa500" stroke-width="0.7"/>
<circle cx="228.1" cy="249.03" r="1.35" fill="#fff" stroke="#ffa500" stroke-width="0.7"/>
<path d="M49.5,301.82 L94.15,301.82 L138.8,300.69 L183.45,294.55 L228.1,260.94" fill="none" stroke="#800080" stroke-width="0.8" stroke-linejoin="round"/>
<circle cx="49.5" cy="301.82" r="1.35" fill="#fff" stroke="#800080" stroke-width="0.7"/>
<circle cx="94.15" cy="301.82" r="1.35" fill="#fff" stroke="#800080" stroke-width="0.7"/>
<circle cx="138.8" cy="300.69" r="1.35" fill="#fff" stroke="#800080" stroke-width="0.7"/>
<circle cx="183.45" cy="294.55" r="1.35" fill="#fff" stroke="#800080" stroke-width="0.7"/>
<circle cx="228.1" cy="260.94" r="1.35" fill="#fff" stroke="#800080" stroke-width="0.7"/>
<rect x="40.6" y="174.4" width="196.3" height="132.9" fill="none" stroke="#1a1a1a" stroke-width="1.25"/>
<line x1="38.2" y1="302.7" x2="40.6" y2="302.7" stroke="#666" stroke-width="0.6"/>
<text x="36.9" y="306.71" font-size="10.2" font-family='"Liberation Sans", sans-serif' font-style="normal" text-anchor="end" fill="#1a1a1a" stroke="#1a1a1a" stroke-width="0.22" textLength="14.15" lengthAdjust="spacingAndGlyphs">0.0</text>
<line x1="38.2" y1="277.62" x2="40.6" y2="277.62" stroke="#666" stroke-width="0.6"/>
<text x="36.9" y="281.63" font-size="10.2" font-family='"Liberation Sans", sans-serif' font-style="normal" text-anchor="end" fill="#1a1a1a" stroke="#1a1a1a" stroke-width="0.22" textLength="14.15" lengthAdjust="spacingAndGlyphs">0.2</text>
<line x1="38.2" y1="252.54" x2="40.6" y2="252.54" stroke="#666" stroke-width="0.6"/>
<text x="36.9" y="256.55" font-size="10.2" font-family='"Liberation Sans", sans-serif' font-style="normal" text-anchor="end" fill="#1a1a1a" stroke="#1a1a1a" stroke-width="0.22" textLength="14.15" lengthAdjust="spacingAndGlyphs">0.4</text>
<line x1="38.2" y1="227.46" x2="40.6" y2="227.46" stroke="#666" stroke-width="0.6"/>
<text x="36.9" y="231.47" font-size="10.2" font-family='"Liberation Sans", sans-serif' font-style="normal" text-anchor="end" fill="#1a1a1a" stroke="#1a1a1a" stroke-width="0.22" textLength="14.15" lengthAdjust="spacingAndGlyphs">0.6</text>
<line x1="38.2" y1="202.38" x2="40.6" y2="202.38" stroke="#666" stroke-width="0.6"/>
<text x="36.9" y="206.39" font-size="10.2" font-family='"Liberation Sans", sans-serif' font-style="normal" text-anchor="end" fill="#1a1a1a" stroke="#1a1a1a" stroke-width="0.22" textLength="14.15" lengthAdjust="spacingAndGlyphs">0.8</text>
<line x1="38.2" y1="177.3" x2="40.6" y2="177.3" stroke="#666" stroke-width="0.6"/>
<text x="36.9" y="181.31" font-size="10.2" font-family='"Liberation Sans", sans-serif' font-style="normal" text-anchor="end" fill="#1a1a1a" stroke="#1a1a1a" stroke-width="0.22" textLength="14.15" lengthAdjust="spacingAndGlyphs">1.0</text>
<line x1="49.5" y1="307.3" x2="49.5" y2="309.7" stroke="#666" stroke-width="0.6"/>
<text x="49.5" y="318.9" font-size="10.2" font-family='"Liberation Sans", sans-serif' font-style="normal" text-anchor="middle" fill="#1a1a1a" stroke="#1a1a1a" stroke-width="0.22" textLength="5.66" lengthAdjust="spacingAndGlyphs">0</text>
<line x1="94.15" y1="307.3" x2="94.15" y2="309.7" stroke="#666" stroke-width="0.6"/>
<text x="94.15" y="318.9" font-size="10.2" font-family='"Liberation Sans", sans-serif' font-style="normal" text-anchor="middle" fill="#1a1a1a" stroke="#1a1a1a" stroke-width="0.22" textLength="5.66" lengthAdjust="spacingAndGlyphs">1</text>
<line x1="138.8" y1="307.3" x2="138.8" y2="309.7" stroke="#666" stroke-width="0.6"/>
<text x="138.8" y="318.9" font-size="10.2" font-family='"Liberation Sans", sans-serif' font-style="normal" text-anchor="middle" fill="#1a1a1a" stroke="#1a1a1a" stroke-width="0.22" textLength="5.66" lengthAdjust="spacingAndGlyphs">3</text>
<line x1="183.45" y1="307.3" x2="183.45" y2="309.7" stroke="#666" stroke-width="0.6"/>
<text x="183.45" y="318.9" font-size="10.2" font-family='"Liberation Sans", sans-serif' font-style="normal" text-anchor="middle" fill="#1a1a1a" stroke="#1a1a1a" stroke-width="0.22" textLength="5.66" lengthAdjust="spacingAndGlyphs">6</text>
<line x1="228.1" y1="307.3" x2="228.1" y2="309.7" stroke="#666" stroke-width="0.6"/>
<text x="228.1" y="318.9" font-size="10.2" font-family='"Liberation Sans", sans-serif' font-style="normal" text-anchor="middle" fill="#1a1a1a" stroke="#1a1a1a" stroke-width="0.22" textLength="11.32" lengthAdjust="spacingAndGlyphs">10</text>
<text x="49.4" y="214.6" font-size="9.6" font-family='"Liberation Sans", sans-serif' font-style="italic" fill="#111" textLength="6.2" lengthAdjust="spacingAndGlyphs">ϕ</text>
<text x="59" y="214.6" font-size="9.6" font-family='"Liberation Sans", sans-serif' font-style="normal" fill="#111" textLength="6.8" lengthAdjust="spacingAndGlyphs">=</text>
<text x="69.6" y="214.6" font-size="9.6" font-family='"Liberation Sans", sans-serif' font-style="normal" fill="#111" textLength="20.2" lengthAdjust="spacingAndGlyphs">0.31</text>
<rect x="43.3" y="227.3" width="87.3" height="26.6" rx="1.5" fill="#fff" fill-opacity="0.8" stroke="#dcdcdc" stroke-width="0.8"/>
<circle cx="51.2" cy="232.2" r="1.15" fill="#fff" stroke="#000000" stroke-width="0.7"/>
<text x="61.5" y="234.5" font-size="6.2" font-family='"Liberation Sans", sans-serif' font-style="italic" fill="#333" textLength="3.2" lengthAdjust="spacingAndGlyphs">ε</text>
<text x="64.5" y="235.5" font-size="4.4" font-family='"Liberation Sans", sans-serif' font-style="italic" fill="#333" textLength="2.8" lengthAdjust="spacingAndGlyphs">a</text>
<text x="69.4" y="234.5" font-size="6.2" font-family='"Liberation Sans", sans-serif' font-style="normal" fill="#333" textLength="3.5" lengthAdjust="spacingAndGlyphs">=</text>
<text x="75.6" y="234.5" font-size="6.2" font-family='"Liberation Sans", sans-serif' font-style="normal" fill="#333" textLength="3.9" lengthAdjust="spacingAndGlyphs">0</text>
<circle cx="51.2" cy="240.6" r="1.15" fill="#fff" stroke="#ff0000" stroke-width="0.7"/>
<text x="61.5" y="242.9" font-size="6.2" font-family='"Liberation Sans", sans-serif' font-style="italic" fill="#333" textLength="3.2" lengthAdjust="spacingAndGlyphs">ε</text>
<text x="64.5" y="243.9" font-size="4.4" font-family='"Liberation Sans", sans-serif' font-style="italic" fill="#333" textLength="2.8" lengthAdjust="spacingAndGlyphs">a</text>
<text x="69.4" y="242.9" font-size="6.2" font-family='"Liberation Sans", sans-serif' font-style="normal" fill="#333" textLength="3.5" lengthAdjust="spacingAndGlyphs">=</text>
<text x="75.6" y="242.9" font-size="6.2" font-family='"Liberation Sans", sans-serif' font-style="normal" fill="#333" textLength="3.9" lengthAdjust="spacingAndGlyphs">2</text>
<circle cx="51.2" cy="249" r="1.15" fill="#fff" stroke="#008000" stroke-width="0.7"/>
<text x="61.5" y="251.3" font-size="6.2" font-family='"Liberation Sans", sans-serif' font-style="italic" fill="#333" textLength="3.2" lengthAdjust="spacingAndGlyphs">ε</text>
<text x="64.5" y="252.3" font-size="4.4" font-family='"Liberation Sans", sans-serif' font-style="italic" fill="#333" textLength="2.8" lengthAdjust="spacingAndGlyphs">a</text>
<text x="69.4" y="251.3" font-size="6.2" font-family='"Liberation Sans", sans-serif' font-style="normal" fill="#333" textLength="3.5" lengthAdjust="spacingAndGlyphs">=</text>
<text x="75.6" y="251.3" font-size="6.2" font-family='"Liberation Sans", sans-serif' font-style="normal" fill="#333" textLength="3.9" lengthAdjust="spacingAndGlyphs">5</text>
<circle cx="96.1" cy="232.2" r="1.15" fill="#fff" stroke="#0000ff" stroke-width="0.7"/>
<text x="106.2" y="234.5" font-size="6.2" font-family='"Liberation Sans", sans-serif' font-style="italic" fill="#333" textLength="3.2" lengthAdjust="spacingAndGlyphs">ε</text>
<text x="109.2" y="235.5" font-size="4.4" font-family='"Liberation Sans", sans-serif' font-style="italic" fill="#333" textLength="2.8" lengthAdjust="spacingAndGlyphs">a</text>
<text x="114.1" y="234.5" font-size="6.2" font-family='"Liberation Sans", sans-serif' font-style="normal" fill="#333" textLength="3.5" lengthAdjust="spacingAndGlyphs">=</text>
<text x="120.3" y="234.5" font-size="6.2" font-family='"Liberation Sans", sans-serif' font-style="normal" fill="#333" textLength="3.9" lengthAdjust="spacingAndGlyphs">7</text>
<circle cx="96.1" cy="240.6" r="1.15" fill="#fff" stroke="#ffa500" stroke-width="0.7"/>
<text x="106.2" y="242.9" font-size="6.2" font-family='"Liberation Sans", sans-serif' font-style="italic" fill="#333" textLength="3.2" lengthAdjust="spacingAndGlyphs">ε</text>
<text x="109.2" y="243.9" font-size="4.4" font-family='"Liberation Sans", sans-serif' font-style="italic" fill="#333" textLength="2.8" lengthAdjust="spacingAndGlyphs">a</text>
<text x="114.1" y="242.9" font-size="6.2" font-family='"Liberation Sans", sans-serif' font-style="normal" fill="#333" textLength="3.5" lengthAdjust="spacingAndGlyphs">=</text>
<text x="120.3" y="242.9" font-size="6.2" font-family='"Liberation Sans", sans-serif' font-style="normal" fill="#333" textLength="3.9" lengthAdjust="spacingAndGlyphs">9</text>
<circle cx="96.1" cy="249" r="1.15" fill="#fff" stroke="#800080" stroke-width="0.7"/>
<text x="106.2" y="251.3" font-size="6.2" font-family='"Liberation Sans", sans-serif' font-style="italic" fill="#333" textLength="3.2" lengthAdjust="spacingAndGlyphs">ε</text>
<text x="109.2" y="252.3" font-size="4.4" font-family='"Liberation Sans", sans-serif' font-style="italic" fill="#333" textLength="2.8" lengthAdjust="spacingAndGlyphs">a</text>
<text x="114.1" y="251.3" font-size="6.2" font-family='"Liberation Sans", sans-serif' font-style="normal" fill="#333" textLength="3.5" lengthAdjust="spacingAndGlyphs">=</text>
<text x="120.3" y="251.3" font-size="6.2" font-family='"Liberation Sans", sans-serif' font-style="normal" fill="#333" textLength="7.3" lengthAdjust="spacingAndGlyphs">10</text>
<text x="231.3" y="299.6" font-size="13.7" font-family='"Liberation Serif", serif' font-style="normal" text-anchor="end" fill="#000" stroke="#000" stroke-width="0.12">(d)</text>
<g transform="translate(16.1,241) rotate(-90)">
<text x="0" y="0" font-size="14.5" font-family='"Liberation Sans", sans-serif' font-style="italic" text-anchor="middle" fill="#000" stroke="#000" stroke-width="0.3">D</text>
<path d="M-0.71,-12.06 C0.06,-13.85 0.99,-13.51 1.5,-13 C2.01,-12.49 2.95,-12.15 3.71,-13.94" fill="none" stroke="#000" stroke-width="0.85" stroke-linecap="round"/>
</g>
<text x="130.2" y="332.7" font-size="15.3" font-family='"Liberation Sans", sans-serif' font-style="italic" text-anchor="start" fill="#000"  textLength="17.2" lengthAdjust="spacingAndGlyphs">Pe</text>
<path d="M289.3,181.81 L325.1,194.95 L378.8,267.44 L414.6,294.49 L450.4,301 L468.3,302.12" fill="none" stroke="#000000" stroke-width="0.8" stroke-linejoin="round"/>
<circle cx="289.3" cy="181.81" r="1.35" fill="#fff" stroke="#000000" stroke-width="0.7"/>
<circle cx="325.1" cy="194.95" r="1.35" fill="#fff" stroke="#000000" stroke-width="0.7"/>
<circle cx="378.8" cy="267.44" r="1.35" fill="#fff" stroke="#000000" stroke-width="0.7"/>
<circle cx="414.6" cy="294.49" r="1.35" fill="#fff" stroke="#000000" stroke-width="0.7"/>
<circle cx="450.4" cy="301" r="1.35" fill="#fff" stroke="#000000" stroke-width="0.7"/>
<circle cx="468.3" cy="302.12" r="1.35" fill="#fff" stroke="#000000" stroke-width="0.7"/>
<path d="M289.3,182.81 L325.1,191.45 L378.8,256.3 L414.6,288.48 L450.4,299.37 L468.3,301.5" fill="none" stroke="#ff0000" stroke-width="0.8" stroke-linejoin="round"/>
<circle cx="289.3" cy="182.81" r="1.35" fill="#fff" stroke="#ff0000" stroke-width="0.7"/>
<circle cx="325.1" cy="191.45" r="1.35" fill="#fff" stroke="#ff0000" stroke-width="0.7"/>
<circle cx="378.8" cy="256.3" r="1.35" fill="#fff" stroke="#ff0000" stroke-width="0.7"/>
<circle cx="414.6" cy="288.48" r="1.35" fill="#fff" stroke="#ff0000" stroke-width="0.7"/>
<circle cx="450.4" cy="299.37" r="1.35" fill="#fff" stroke="#ff0000" stroke-width="0.7"/>
<circle cx="468.3" cy="301.5" r="1.35" fill="#fff" stroke="#ff0000" stroke-width="0.7"/>
<path d="M289.3,181.81 L325.1,187.06 L378.8,227.63 L414.6,267.44 L450.4,289.85 L468.3,295.61" fill="none" stroke="#008000" stroke-width="0.8" stroke-linejoin="round"/>
<circle cx="289.3" cy="181.81" r="1.35" fill="#fff" stroke="#008000" stroke-width="0.7"/>
<circle cx="325.1" cy="187.06" r="1.35" fill="#fff" stroke="#008000" stroke-width="0.7"/>
<circle cx="378.8" cy="227.63" r="1.35" fill="#fff" stroke="#008000" stroke-width="0.7"/>
<circle cx="414.6" cy="267.44" r="1.35" fill="#fff" stroke="#008000" stroke-width="0.7"/>
<circle cx="450.4" cy="289.85" r="1.35" fill="#fff" stroke="#008000" stroke-width="0.7"/>
<circle cx="468.3" cy="295.61" r="1.35" fill="#fff" stroke="#008000" stroke-width="0.7"/>
<path d="M289.3,183.68 L325.1,184.56 L378.8,199.58 L414.6,219.87 L450.4,249.79 L468.3,261.43" fill="none" stroke="#0000ff" stroke-width="0.8" stroke-linejoin="round"/>
<circle cx="289.3" cy="183.68" r="1.35" fill="#fff" stroke="#0000ff" stroke-width="0.7"/>
<circle cx="325.1" cy="184.56" r="1.35" fill="#fff" stroke="#0000ff" stroke-width="0.7"/>
<circle cx="378.8" cy="199.58" r="1.35" fill="#fff" stroke="#0000ff" stroke-width="0.7"/>
<circle cx="414.6" cy="219.87" r="1.35" fill="#fff" stroke="#0000ff" stroke-width="0.7"/>
<circle cx="450.4" cy="249.79" r="1.35" fill="#fff" stroke="#0000ff" stroke-width="0.7"/>
<circle cx="468.3" cy="261.43" r="1.35" fill="#fff" stroke="#0000ff" stroke-width="0.7"/>
<rect x="280.4" y="175.3" width="196.9" height="133" fill="none" stroke="#1a1a1a" stroke-width="1.25"/>
<line x1="278" y1="303.5" x2="280.4" y2="303.5" stroke="#666" stroke-width="0.6"/>
<text x="276.7" y="307.51" font-size="10.2" font-family='"Liberation Sans", sans-serif' font-style="normal" text-anchor="end" fill="#1a1a1a" stroke="#1a1a1a" stroke-width="0.22" textLength="14.15" lengthAdjust="spacingAndGlyphs">0.0</text>
<line x1="278" y1="278.46" x2="280.4" y2="278.46" stroke="#666" stroke-width="0.6"/>
<text x="276.7" y="282.47" font-size="10.2" font-family='"Liberation Sans", sans-serif' font-style="normal" text-anchor="end" fill="#1a1a1a" stroke="#1a1a1a" stroke-width="0.22" textLength="14.15" lengthAdjust="spacingAndGlyphs">0.2</text>
<line x1="278" y1="253.42" x2="280.4" y2="253.42" stroke="#666" stroke-width="0.6"/>
<text x="276.7" y="257.43" font-size="10.2" font-family='"Liberation Sans", sans-serif' font-style="normal" text-anchor="end" fill="#1a1a1a" stroke="#1a1a1a" stroke-width="0.22" textLength="14.15" lengthAdjust="spacingAndGlyphs">0.4</text>
<line x1="278" y1="228.38" x2="280.4" y2="228.38" stroke="#666" stroke-width="0.6"/>
<text x="276.7" y="232.39" font-size="10.2" font-family='"Liberation Sans", sans-serif' font-style="normal" text-anchor="end" fill="#1a1a1a" stroke="#1a1a1a" stroke-width="0.22" textLength="14.15" lengthAdjust="spacingAndGlyphs">0.6</text>
<line x1="278" y1="203.34" x2="280.4" y2="203.34" stroke="#666" stroke-width="0.6"/>
<text x="276.7" y="207.35" font-size="10.2" font-family='"Liberation Sans", sans-serif' font-style="normal" text-anchor="end" fill="#1a1a1a" stroke="#1a1a1a" stroke-width="0.22" textLength="14.15" lengthAdjust="spacingAndGlyphs">0.8</text>
<line x1="278" y1="178.3" x2="280.4" y2="178.3" stroke="#666" stroke-width="0.6"/>
<text x="276.7" y="182.31" font-size="10.2" font-family='"Liberation Sans", sans-serif' font-style="normal" text-anchor="end" fill="#1a1a1a" stroke="#1a1a1a" stroke-width="0.22" textLength="14.15" lengthAdjust="spacingAndGlyphs">1.0</text>
<line x1="289.3" y1="308.3" x2="289.3" y2="310.7" stroke="#666" stroke-width="0.6"/>
<text x="289.3" y="319.9" font-size="10.2" font-family='"Liberation Sans", sans-serif' font-style="normal" text-anchor="middle" fill="#1a1a1a" stroke="#1a1a1a" stroke-width="0.22" textLength="5.66" lengthAdjust="spacingAndGlyphs">0</text>
<line x1="325.1" y1="308.3" x2="325.1" y2="310.7" stroke="#666" stroke-width="0.6"/>
<text x="325.1" y="319.9" font-size="10.2" font-family='"Liberation Sans", sans-serif' font-style="normal" text-anchor="middle" fill="#1a1a1a" stroke="#1a1a1a" stroke-width="0.22" textLength="5.66" lengthAdjust="spacingAndGlyphs">2</text>
<line x1="360.9" y1="308.3" x2="360.9" y2="310.7" stroke="#666" stroke-width="0.6"/>
<text x="360.9" y="319.9" font-size="10.2" font-family='"Liberation Sans", sans-serif' font-style="normal" text-anchor="middle" fill="#1a1a1a" stroke="#1a1a1a" stroke-width="0.22" textLength="5.66" lengthAdjust="spacingAndGlyphs">4</text>
<line x1="396.7" y1="308.3" x2="396.7" y2="310.7" stroke="#666" stroke-width="0.6"/>
<text x="396.7" y="319.9" font-size="10.2" font-family='"Liberation Sans", sans-serif' font-style="normal" text-anchor="middle" fill="#1a1a1a" stroke="#1a1a1a" stroke-width="0.22" textLength="5.66" lengthAdjust="spacingAndGlyphs">6</text>
<line x1="432.5" y1="308.3" x2="432.5" y2="310.7" stroke="#666" stroke-width="0.6"/>
<text x="432.5" y="319.9" font-size="10.2" font-family='"Liberation Sans", sans-serif' font-style="normal" text-anchor="middle" fill="#1a1a1a" stroke="#1a1a1a" stroke-width="0.22" textLength="5.66" lengthAdjust="spacingAndGlyphs">8</text>
<line x1="468.3" y1="308.3" x2="468.3" y2="310.7" stroke="#666" stroke-width="0.6"/>
<text x="468.3" y="319.9" font-size="10.2" font-family='"Liberation Sans", sans-serif' font-style="normal" text-anchor="middle" fill="#1a1a1a" stroke="#1a1a1a" stroke-width="0.22" textLength="11.32" lengthAdjust="spacingAndGlyphs">10</text>
<text x="289.8" y="240.6" font-size="9.6" font-family='"Liberation Sans", sans-serif' font-style="italic" fill="#111" textLength="6.2" lengthAdjust="spacingAndGlyphs">ϕ</text>
<text x="299.4" y="240.6" font-size="9.6" font-family='"Liberation Sans", sans-serif' font-style="normal" fill="#111" textLength="6.8" lengthAdjust="spacingAndGlyphs">=</text>
<text x="310" y="240.6" font-size="9.6" font-family='"Liberation Sans", sans-serif' font-style="normal" fill="#111" textLength="20.3" lengthAdjust="spacingAndGlyphs">0.31</text>
<rect x="284" y="283.8" width="104.8" height="21.1" rx="1.5" fill="#fff" fill-opacity="0.8" stroke="#dcdcdc" stroke-width="0.8"/>
<circle cx="293.3" cy="289" r="1.15" fill="#fff" stroke="#000000" stroke-width="0.7"/>
<text x="304.9" y="291.3" font-size="6.8" font-family='"Liberation Sans", sans-serif' font-style="italic" fill="#333" textLength="8.6" lengthAdjust="spacingAndGlyphs">Pe</text>
<text x="316.1" y="291.3" font-size="6.8" font-family='"Liberation Sans", sans-serif' font-style="normal" fill="#333" textLength="4.7" lengthAdjust="spacingAndGlyphs">=</text>
<text x="323.4" y="291.3" font-size="6.8" font-family='"Liberation Sans", sans-serif' font-style="normal" fill="#333" textLength="4.2" lengthAdjust="spacingAndGlyphs">0</text>
<circle cx="293.3" cy="298.8" r="1.15" fill="#fff" stroke="#ff0000" stroke-width="0.7"/>
<text x="304.9" y="301.1" font-size="6.8" font-family='"Liberation Sans", sans-serif' font-style="italic" fill="#333" textLength="8.6" lengthAdjust="spacingAndGlyphs">Pe</text>
<text x="316.1" y="301.1" font-size="6.8" font-family='"Liberation Sans", sans-serif' font-style="normal" fill="#333" textLength="4.7" lengthAdjust="spacingAndGlyphs">=</text>
<text x="323.4" y="301.1" font-size="6.8" font-family='"Liberation Sans", sans-serif' font-style="normal" fill="#333" textLength="4.2" lengthAdjust="spacingAndGlyphs">3</text>
<circle cx="347.5" cy="289" r="1.15" fill="#fff" stroke="#008000" stroke-width="0.7"/>
<text x="359.5" y="291.3" font-size="6.8" font-family='"Liberation Sans", sans-serif' font-style="italic" fill="#333" textLength="8.6" lengthAdjust="spacingAndGlyphs">Pe</text>
<text x="370.7" y="291.3" font-size="6.8" font-family='"Liberation Sans", sans-serif' font-style="normal" fill="#333" textLength="4.7" lengthAdjust="spacingAndGlyphs">=</text>
<text x="378" y="291.3" font-size="6.8" font-family='"Liberation Sans", sans-serif' font-style="normal" fill="#333" textLength="4.2" lengthAdjust="spacingAndGlyphs">6</text>
<circle cx="347.5" cy="298.8" r="1.15" fill="#fff" stroke="#0000ff" stroke-width="0.7"/>
<text x="359.5" y="301.1" font-size="6.8" font-family='"Liberation Sans", sans-serif' font-style="italic" fill="#333" textLength="8.6" lengthAdjust="spacingAndGlyphs">Pe</text>
<text x="370.7" y="301.1" font-size="6.8" font-family='"Liberation Sans", sans-serif' font-style="normal" fill="#333" textLength="4.7" lengthAdjust="spacingAndGlyphs">=</text>
<text x="378" y="301.1" font-size="6.8" font-family='"Liberation Sans", sans-serif' font-style="normal" fill="#333" textLength="7.9" lengthAdjust="spacingAndGlyphs">10</text>
<text x="408.6" y="300.5" font-size="13.7" font-family='"Liberation Serif", serif' font-style="normal" text-anchor="end" fill="#000" stroke="#000" stroke-width="0.12">(e)</text>
<g transform="translate(256.1,242) rotate(-90)">
<text x="0" y="0" font-size="14.5" font-family='"Liberation Sans", sans-serif' font-style="italic" text-anchor="middle" fill="#000" stroke="#000" stroke-width="0.3">D</text>
<path d="M-0.71,-12.06 C0.06,-13.85 0.99,-13.51 1.5,-13 C2.01,-12.49 2.95,-12.15 3.71,-13.94" fill="none" stroke="#000" stroke-width="0.85" stroke-linecap="round"/>
</g>
<text x="373" y="333.5" font-size="14" font-family='"Liberation Sans", sans-serif' font-style="italic" text-anchor="start" fill="#000" >ε</text>
<text x="380" y="335.6" font-size="9.8" font-family='"Liberation Sans", sans-serif' font-style="italic" text-anchor="start" fill="#000" >a</text>
<rect x="518.2" y="178.6" width="122.8" height="129.9" fill="#bddf26"/>
<polygon points="518.2,277.9 530.6,276.8 555.3,276 567.5,272.9 580,269.5 591.6,266.8 641,240.5 641,178.6 518.2,178.6" fill="#44bf70" stroke="#44bf70" stroke-width="0.3"/>
<polygon points="518.2,264.7 530.6,263.7 555.3,260.7 567.5,254.6 580,249.1 594.3,241 607,231.3 633.3,216.8 641,210.9 641,178.6 518.2,178.6" fill="#21918c" stroke="#21918c" stroke-width="0.3"/>
<polygon points="518.2,251.2 530.6,250.4 555.2,245.1 562.1,241 578,233.3 591.2,226.7 606.3,217.5 621.5,203 641,188.5 641,178.6 518.2,178.6" fill="#355f8d" stroke="#355f8d" stroke-width="0.3"/>
<polygon points="518.2,232.9 530.6,232.5 542.3,228.7 555.5,224.7 568.7,218.1 578,212.9 591.2,204.3 605.7,191.8 615.5,178.6 518.2,178.6" fill="#482475" stroke="#482475" stroke-width="0.3"/>
<rect x="518.2" y="178.6" width="122.8" height="129.9" fill="none" stroke="#111" stroke-width="1.2"/>
<line x1="515.8" y1="308.5" x2="518.2" y2="308.5" stroke="#666" stroke-width="0.6"/>
<text x="514.5" y="312.51" font-size="10.2" font-family='"Liberation Sans", sans-serif' font-style="normal" text-anchor="end" fill="#1a1a1a" stroke="#1a1a1a" stroke-width="0.22" textLength="5.66" lengthAdjust="spacingAndGlyphs">0</text>
<line x1="515.8" y1="282.52" x2="518.2" y2="282.52" stroke="#666" stroke-width="0.6"/>
<text x="514.5" y="286.53" font-size="10.2" font-family='"Liberation Sans", sans-serif' font-style="normal" text-anchor="end" fill="#1a1a1a" stroke="#1a1a1a" stroke-width="0.22" textLength="5.66" lengthAdjust="spacingAndGlyphs">2</text>
<line x1="515.8" y1="243.55" x2="518.2" y2="243.55" stroke="#666" stroke-width="0.6"/>
<text x="514.5" y="247.56" font-size="10.2" font-family='"Liberation Sans", sans-serif' font-style="normal" text-anchor="end" fill="#1a1a1a" stroke="#1a1a1a" stroke-width="0.22" textLength="5.66" lengthAdjust="spacingAndGlyphs">5</text>
<line x1="515.8" y1="217.57" x2="518.2" y2="217.57" stroke="#666" stroke-width="0.6"/>
<text x="514.5" y="221.58" font-size="10.2" font-family='"Liberation Sans", sans-serif' font-style="normal" text-anchor="end" fill="#1a1a1a" stroke="#1a1a1a" stroke-width="0.22" textLength="5.66" lengthAdjust="spacingAndGlyphs">7</text>
<line x1="515.8" y1="191.59" x2="518.2" y2="191.59" stroke="#666" stroke-width="0.6"/>
<text x="514.5" y="195.6" font-size="10.2" font-family='"Liberation Sans", sans-serif' font-style="normal" text-anchor="end" fill="#1a1a1a" stroke="#1a1a1a" stroke-width="0.22" textLength="5.66" lengthAdjust="spacingAndGlyphs">9</text>
<line x1="515.8" y1="178.6" x2="518.2" y2="178.6" stroke="#666" stroke-width="0.6"/>
<text x="514.5" y="182.61" font-size="10.2" font-family='"Liberation Sans", sans-serif' font-style="normal" text-anchor="end" fill="#1a1a1a" stroke="#1a1a1a" stroke-width="0.22" textLength="11.32" lengthAdjust="spacingAndGlyphs">10</text>
<line x1="530.66" y1="308.5" x2="530.66" y2="310.9" stroke="#666" stroke-width="0.6"/>
<text x="530.66" y="320.1" font-size="10.2" font-family='"Liberation Sans", sans-serif' font-style="normal" text-anchor="middle" fill="#1a1a1a" stroke="#1a1a1a" stroke-width="0.22" textLength="5.66" lengthAdjust="spacingAndGlyphs">1</text>
<line x1="555.18" y1="308.5" x2="555.18" y2="310.9" stroke="#666" stroke-width="0.6"/>
<text x="555.18" y="320.1" font-size="10.2" font-family='"Liberation Sans", sans-serif' font-style="normal" text-anchor="middle" fill="#1a1a1a" stroke="#1a1a1a" stroke-width="0.22" textLength="5.66" lengthAdjust="spacingAndGlyphs">3</text>
<line x1="591.96" y1="308.5" x2="591.96" y2="310.9" stroke="#666" stroke-width="0.6"/>
<text x="591.96" y="320.1" font-size="10.2" font-family='"Liberation Sans", sans-serif' font-style="normal" text-anchor="middle" fill="#1a1a1a" stroke="#1a1a1a" stroke-width="0.22" textLength="5.66" lengthAdjust="spacingAndGlyphs">6</text>
<line x1="641" y1="308.5" x2="641" y2="310.9" stroke="#666" stroke-width="0.6"/>
<text x="641" y="320.1" font-size="10.2" font-family='"Liberation Sans", sans-serif' font-style="normal" text-anchor="middle" fill="#1a1a1a" stroke="#1a1a1a" stroke-width="0.22" textLength="11.32" lengthAdjust="spacingAndGlyphs">10</text>
<text x="636.4" y="301.2" font-size="13.7" font-family='"Liberation Serif", serif' font-style="normal" text-anchor="end" fill="#000" stroke="#000" stroke-width="0.12">(f)</text>
<text x="570.9" y="334.5" font-size="15.6" font-family='"Liberation Sans", sans-serif' font-style="italic" text-anchor="start" fill="#000"  textLength="17.5" lengthAdjust="spacingAndGlyphs">Pe</text>
<g transform="translate(497.9,243.6) rotate(-90)">
<text x="0" y="0" font-size="14.8" font-family='"Liberation Sans", sans-serif' text-anchor="middle" fill="#000"><tspan font-style="italic">ε</tspan><tspan font-size="10.2" dx="-0.5" dy="1.6" font-style="italic">a</tspan></text>
</g>
<rect x="648.7" y="282.36" width="3.6" height="26.24" fill="#482475"/>
<rect x="648.7" y="256.42" width="3.6" height="26.24" fill="#355f8d"/>
<rect x="648.7" y="230.48" width="3.6" height="26.24" fill="#21918c"/>
<rect x="648.7" y="204.54" width="3.6" height="26.24" fill="#44bf70"/>
<rect x="648.7" y="178.6" width="3.6" height="26.24" fill="#bddf26"/>
<rect x="648.7" y="178.6" width="3.6" height="129.7" fill="none" stroke="#111" stroke-width="1.05"/>
<line x1="652.3" y1="308.3" x2="654.5" y2="308.3" stroke="#666" stroke-width="0.6"/>
<text x="655.7" y="312.31" font-size="10.2" font-family='"Liberation Sans", sans-serif' font-style="normal" text-anchor="start" fill="#1a1a1a" stroke="#1a1a1a" stroke-width="0.22" textLength="14.15" lengthAdjust="spacingAndGlyphs">0.0</text>
<line x1="652.3" y1="282.36" x2="654.5" y2="282.36" stroke="#666" stroke-width="0.6"/>
<text x="655.7" y="286.37" font-size="10.2" font-family='"Liberation Sans", sans-serif' font-style="normal" text-anchor="start" fill="#1a1a1a" stroke="#1a1a1a" stroke-width="0.22" textLength="14.15" lengthAdjust="spacingAndGlyphs">0.2</text>
<line x1="652.3" y1="256.42" x2="654.5" y2="256.42" stroke="#666" stroke-width="0.6"/>
<text x="655.7" y="260.43" font-size="10.2" font-family='"Liberation Sans", sans-serif' font-style="normal" text-anchor="start" fill="#1a1a1a" stroke="#1a1a1a" stroke-width="0.22" textLength="14.15" lengthAdjust="spacingAndGlyphs">0.4</text>
<line x1="652.3" y1="230.48" x2="654.5" y2="230.48" stroke="#666" stroke-width="0.6"/>
<text x="655.7" y="234.49" font-size="10.2" font-family='"Liberation Sans", sans-serif' font-style="normal" text-anchor="start" fill="#1a1a1a" stroke="#1a1a1a" stroke-width="0.22" textLength="14.15" lengthAdjust="spacingAndGlyphs">0.6</text>
<line x1="652.3" y1="204.54" x2="654.5" y2="204.54" stroke="#666" stroke-width="0.6"/>
<text x="655.7" y="208.55" font-size="10.2" font-family='"Liberation Sans", sans-serif' font-style="normal" text-anchor="start" fill="#1a1a1a" stroke="#1a1a1a" stroke-width="0.22" textLength="14.15" lengthAdjust="spacingAndGlyphs">0.8</text>
<line x1="652.3" y1="178.6" x2="654.5" y2="178.6" stroke="#666" stroke-width="0.6"/>
<text x="655.7" y="182.61" font-size="10.2" font-family='"Liberation Sans", sans-serif' font-style="normal" text-anchor="start" fill="#1a1a1a" stroke="#1a1a1a" stroke-width="0.22" textLength="14.15" lengthAdjust="spacingAndGlyphs">1.0</text>
<g transform="translate(682.9,243.5) rotate(-90)">
<text x="0" y="0" font-size="12.7" font-family='"Liberation Sans", sans-serif' font-style="italic" text-anchor="middle" fill="#000" stroke="#000" stroke-width="0.3">D</text>
<path d="M-0.62,-10.57 C0.05,-12.13 0.87,-11.83 1.31,-11.39 C1.76,-10.94 2.58,-10.64 3.25,-12.21" fill="none" stroke="#000" stroke-width="0.74" stroke-linecap="round"/>
</g>
<path d="M48.9,400.02 L74.5,464.83 L100.1,470.98 L125.7,473.24 L161.54,473.49 L187.14,471.36 L228.1,425.14" fill="none" stroke="#000000" stroke-width="0.8" stroke-linejoin="round"/>
<circle cx="48.9" cy="400.02" r="1.35" fill="#fff" stroke="#000000" stroke-width="0.7"/>
<circle cx="74.5" cy="464.83" r="1.35" fill="#fff" stroke="#000000" stroke-width="0.7"/>
<circle cx="100.1" cy="470.98" r="1.35" fill="#fff" stroke="#000000" stroke-width="0.7"/>
<circle cx="125.7" cy="473.24" r="1.35" fill="#fff" stroke="#000000" stroke-width="0.7"/>
<circle cx="161.54" cy="473.49" r="1.35" fill="#fff" stroke="#000000" stroke-width="0.7"/>
<circle cx="187.14" cy="471.36" r="1.35" fill="#fff" stroke="#000000" stroke-width="0.7"/>
<circle cx="228.1" cy="425.14" r="1.35" fill="#fff" stroke="#000000" stroke-width="0.7"/>
<path d="M48.9,387.46 L74.5,460.68 L100.1,470.23 L125.7,472.36 L161.54,472.36 L187.14,470.23 L228.1,423.63" fill="none" stroke="#ff0000" stroke-width="0.8" stroke-linejoin="round"/>
<circle cx="48.9" cy="387.46" r="1.35" fill="#fff" stroke="#ff0000" stroke-width="0.7"/>
<circle cx="74.5" cy="460.68" r="1.35" fill="#fff" stroke="#ff0000" stroke-width="0.7"/>
<circle cx="100.1" cy="470.23" r="1.35" fill="#fff" stroke="#ff0000" stroke-width="0.7"/>
<circle cx="125.7" cy="472.36" r="1.35" fill="#fff" stroke="#ff0000" stroke-width="0.7"/>
<circle cx="161.54" cy="472.36" r="1.35" fill="#fff" stroke="#ff0000" stroke-width="0.7"/>
<circle cx="187.14" cy="470.23" r="1.35" fill="#fff" stroke="#ff0000" stroke-width="0.7"/>
<circle cx="228.1" cy="423.63" r="1.35" fill="#fff" stroke="#ff0000" stroke-width="0.7"/>
<path d="M48.9,365.85 L74.5,433.3 L100.1,456.91 L125.7,464.2 L161.54,466.46 L187.14,460.18 L228.1,415.72" fill="none" stroke="#008000" stroke-width="0.8" stroke-linejoin="round"/>
<circle cx="48.9" cy="365.85" r="1.35" fill="#fff" stroke="#008000" stroke-width="0.7"/>
<circle cx="74.5" cy="433.3" r="1.35" fill="#fff" stroke="#008000" stroke-width="0.7"/>
<circle cx="100.1" cy="456.91" r="1.35" fill="#fff" stroke="#008000" stroke-width="0.7"/>
<circle cx="125.7" cy="464.2" r="1.35" fill="#fff" stroke="#008000" stroke-width="0.7"/>
<circle cx="161.54" cy="466.46" r="1.35" fill="#fff" stroke="#008000" stroke-width="0.7"/>
<circle cx="187.14" cy="460.18" r="1.35" fill="#fff" stroke="#008000" stroke-width="0.7"/>
<circle cx="228.1" cy="415.72" r="1.35" fill="#fff" stroke="#008000" stroke-width="0.7"/>
<path d="M48.9,352.92 L74.5,377.53 L100.1,406.55 L125.7,424.13 L161.54,433.05 L187.14,425.76 L228.1,399.26" fill="none" stroke="#0000ff" stroke-width="0.8" stroke-linejoin="round"/>
<circle cx="48.9" cy="352.92" r="1.35" fill="#fff" stroke="#0000ff" stroke-width="0.7"/>
<circle cx="74.5" cy="377.53" r="1.35" fill="#fff" stroke="#0000ff" stroke-width="0.7"/>
<circle cx="100.1" cy="406.55" r="1.35" fill="#fff" stroke="#0000ff" stroke-width="0.7"/>
<circle cx="125.7" cy="424.13" r="1.35" fill="#fff" stroke="#0000ff" stroke-width="0.7"/>
<circle cx="161.54" cy="433.05" r="1.35" fill="#fff" stroke="#0000ff" stroke-width="0.7"/>
<circle cx="187.14" cy="425.76" r="1.35" fill="#fff" stroke="#0000ff" stroke-width="0.7"/>
<circle cx="228.1" cy="399.26" r="1.35" fill="#fff" stroke="#0000ff" stroke-width="0.7"/>
<rect x="40.2" y="347.1" width="196.4" height="132.2" fill="none" stroke="#1a1a1a" stroke-width="1.25"/>
<line x1="37.8" y1="475" x2="40.2" y2="475" stroke="#666" stroke-width="0.6"/>
<text x="36.5" y="479.01" font-size="10.2" font-family='"Liberation Sans", sans-serif' font-style="normal" text-anchor="end" fill="#1a1a1a" stroke="#1a1a1a" stroke-width="0.22" textLength="14.15" lengthAdjust="spacingAndGlyphs">0.0</text>
<line x1="37.8" y1="449.88" x2="40.2" y2="449.88" stroke="#666" stroke-width="0.6"/>
<text x="36.5" y="453.89" font-size="10.2" font-family='"Liberation Sans", sans-serif' font-style="normal" text-anchor="end" fill="#1a1a1a" stroke="#1a1a1a" stroke-width="0.22" textLength="14.15" lengthAdjust="spacingAndGlyphs">0.2</text>
<line x1="37.8" y1="424.76" x2="40.2" y2="424.76" stroke="#666" stroke-width="0.6"/>
<text x="36.5" y="428.77" font-size="10.2" font-family='"Liberation Sans", sans-serif' font-style="normal" text-anchor="end" fill="#1a1a1a" stroke="#1a1a1a" stroke-width="0.22" textLength="14.15" lengthAdjust="spacingAndGlyphs">0.4</text>
<line x1="37.8" y1="399.64" x2="40.2" y2="399.64" stroke="#666" stroke-width="0.6"/>
<text x="36.5" y="403.65" font-size="10.2" font-family='"Liberation Sans", sans-serif' font-style="normal" text-anchor="end" fill="#1a1a1a" stroke="#1a1a1a" stroke-width="0.22" textLength="14.15" lengthAdjust="spacingAndGlyphs">0.6</text>
<line x1="37.8" y1="374.52" x2="40.2" y2="374.52" stroke="#666" stroke-width="0.6"/>
<text x="36.5" y="378.53" font-size="10.2" font-family='"Liberation Sans", sans-serif' font-style="normal" text-anchor="end" fill="#1a1a1a" stroke="#1a1a1a" stroke-width="0.22" textLength="14.15" lengthAdjust="spacingAndGlyphs">0.8</text>
<line x1="37.8" y1="349.4" x2="40.2" y2="349.4" stroke="#666" stroke-width="0.6"/>
<text x="36.5" y="353.41" font-size="10.2" font-family='"Liberation Sans", sans-serif' font-style="normal" text-anchor="end" fill="#1a1a1a" stroke="#1a1a1a" stroke-width="0.22" textLength="14.15" lengthAdjust="spacingAndGlyphs">1.0</text>
<line x1="54.02" y1="479.3" x2="54.02" y2="481.7" stroke="#666" stroke-width="0.6"/>
<text x="54.02" y="490.9" font-size="10.2" font-family='"Liberation Sans", sans-serif' font-style="normal" text-anchor="middle" fill="#1a1a1a" stroke="#1a1a1a" stroke-width="0.22" textLength="14.15" lengthAdjust="spacingAndGlyphs">0.1</text>
<line x1="105.22" y1="479.3" x2="105.22" y2="481.7" stroke="#666" stroke-width="0.6"/>
<text x="105.22" y="490.9" font-size="10.2" font-family='"Liberation Sans", sans-serif' font-style="normal" text-anchor="middle" fill="#1a1a1a" stroke="#1a1a1a" stroke-width="0.22" textLength="14.15" lengthAdjust="spacingAndGlyphs">0.2</text>
<line x1="156.42" y1="479.3" x2="156.42" y2="481.7" stroke="#666" stroke-width="0.6"/>
<text x="156.42" y="490.9" font-size="10.2" font-family='"Liberation Sans", sans-serif' font-style="normal" text-anchor="middle" fill="#1a1a1a" stroke="#1a1a1a" stroke-width="0.22" textLength="14.15" lengthAdjust="spacingAndGlyphs">0.3</text>
<line x1="207.62" y1="479.3" x2="207.62" y2="481.7" stroke="#666" stroke-width="0.6"/>
<text x="207.62" y="490.9" font-size="10.2" font-family='"Liberation Sans", sans-serif' font-style="normal" text-anchor="middle" fill="#1a1a1a" stroke="#1a1a1a" stroke-width="0.22" textLength="14.15" lengthAdjust="spacingAndGlyphs">0.4</text>
<rect x="137.8" y="350.5" width="95.3" height="21.1" rx="1.5" fill="#fff" fill-opacity="0.8" stroke="#dcdcdc" stroke-width="0.8"/>
<circle cx="146.2" cy="355.6" r="1.15" fill="#fff" stroke="#000000" stroke-width="0.7"/>
<text x="158.4" y="357.9" font-size="6.8" font-family='"Liberation Sans", sans-serif' font-style="italic" fill="#333" textLength="7.5" lengthAdjust="spacingAndGlyphs">Pe</text>
<text x="165.8" y="357.9" font-size="6.8" font-family='"Liberation Sans", sans-serif' font-style="normal" fill="#333" textLength="5.2" lengthAdjust="spacingAndGlyphs">=</text>
<text x="171.6" y="357.9" font-size="6.8" font-family='"Liberation Sans", sans-serif' font-style="normal" fill="#333" textLength="4.5" lengthAdjust="spacingAndGlyphs">0</text>
<circle cx="146.2" cy="365.4" r="1.15" fill="#fff" stroke="#ff0000" stroke-width="0.7"/>
<text x="158.4" y="367.7" font-size="6.8" font-family='"Liberation Sans", sans-serif' font-style="italic" fill="#333" textLength="7.5" lengthAdjust="spacingAndGlyphs">Pe</text>
<text x="165.8" y="367.7" font-size="6.8" font-family='"Liberation Sans", sans-serif' font-style="normal" fill="#333" textLength="5.2" lengthAdjust="spacingAndGlyphs">=</text>
<text x="171.6" y="367.7" font-size="6.8" font-family='"Liberation Sans", sans-serif' font-style="normal" fill="#333" textLength="4.5" lengthAdjust="spacingAndGlyphs">3</text>
<circle cx="196.6" cy="355.6" r="1.15" fill="#fff" stroke="#008000" stroke-width="0.7"/>
<text x="208.8" y="357.9" font-size="6.8" font-family='"Liberation Sans", sans-serif' font-style="italic" fill="#333" textLength="7.5" lengthAdjust="spacingAndGlyphs">Pe</text>
<text x="216.2" y="357.9" font-size="6.8" font-family='"Liberation Sans", sans-serif' font-style="normal" fill="#333" textLength="5.2" lengthAdjust="spacingAndGlyphs">=</text>
<text x="222" y="357.9" font-size="6.8" font-family='"Liberation Sans", sans-serif' font-style="normal" fill="#333" textLength="4.5" lengthAdjust="spacingAndGlyphs">6</text>
<circle cx="196.6" cy="365.4" r="1.15" fill="#fff" stroke="#0000ff" stroke-width="0.7"/>
<text x="208.8" y="367.7" font-size="6.8" font-family='"Liberation Sans", sans-serif' font-style="italic" fill="#333" textLength="7.5" lengthAdjust="spacingAndGlyphs">Pe</text>
<text x="216.2" y="367.7" font-size="6.8" font-family='"Liberation Sans", sans-serif' font-style="normal" fill="#333" textLength="5.2" lengthAdjust="spacingAndGlyphs">=</text>
<text x="222" y="367.7" font-size="6.8" font-family='"Liberation Sans", sans-serif' font-style="normal" fill="#333" textLength="9" lengthAdjust="spacingAndGlyphs">10</text>
<text x="156" y="387.3" font-size="10.2" font-family='"Liberation Sans", sans-serif' font-style="italic" fill="#111" textLength="5.3" lengthAdjust="spacingAndGlyphs">ε</text>
<text x="161.5" y="388.9" font-size="7.0" font-family='"Liberation Sans", sans-serif' font-style="italic" fill="#111" textLength="3.8" lengthAdjust="spacingAndGlyphs">a</text>
<text x="166.6" y="387.3" font-size="10.2" font-family='"Liberation Sans", sans-serif' font-style="normal" fill="#111" textLength="6.4" lengthAdjust="spacingAndGlyphs">=</text>
<text x="174.6" y="387.3" font-size="9.8" font-family='"Liberation Sans", sans-serif' font-style="normal" fill="#111" textLength="11.1" lengthAdjust="spacingAndGlyphs">10</text>
<text x="231.3" y="471.9" font-size="13.7" font-family='"Liberation Serif", serif' font-style="normal" text-anchor="end" fill="#000" stroke="#000" stroke-width="0.12">(g)</text>
<g transform="translate(16.1,413.2) rotate(-90)">
<text x="0" y="0" font-size="14.5" font-family='"Liberation Sans", sans-serif' font-style="italic" text-anchor="middle" fill="#000" stroke="#000" stroke-width="0.3">D</text>
<path d="M-0.71,-12.06 C0.06,-13.85 0.99,-13.51 1.5,-13 C2.01,-12.49 2.95,-12.15 3.71,-13.94" fill="none" stroke="#000" stroke-width="0.85" stroke-linecap="round"/>
</g>
<text x="133.5" y="505" font-size="14" font-family='"Liberation Sans", sans-serif' font-style="italic" text-anchor="start" fill="#000" >ϕ</text>
<path d="M289.5,400.63 L334.15,399.75 L378.8,387.82 L423.45,366.11 L468.1,353.44" fill="none" stroke="#000000" stroke-width="0.8" stroke-linejoin="round"/>
<circle cx="289.5" cy="400.63" r="1.35" fill="#fff" stroke="#000000" stroke-width="0.7"/>
<circle cx="334.15" cy="399.75" r="1.35" fill="#fff" stroke="#000000" stroke-width="0.7"/>
<circle cx="378.8" cy="387.82" r="1.35" fill="#fff" stroke="#000000" stroke-width="0.7"/>
<circle cx="423.45" cy="366.11" r="1.35" fill="#fff" stroke="#000000" stroke-width="0.7"/>
<circle cx="468.1" cy="353.44" r="1.35" fill="#fff" stroke="#000000" stroke-width="0.7"/>
<path d="M289.5,465.89 L334.15,466.14 L378.8,461.24 L423.45,433.88 L468.1,378.04" fill="none" stroke="#ff0000" stroke-width="0.8" stroke-linejoin="round"/>
<circle cx="289.5" cy="465.89" r="1.35" fill="#fff" stroke="#ff0000" stroke-width="0.7"/>
<circle cx="334.15" cy="466.14" r="1.35" fill="#fff" stroke="#ff0000" stroke-width="0.7"/>
<circle cx="378.8" cy="461.24" r="1.35" fill="#fff" stroke="#ff0000" stroke-width="0.7"/>
<circle cx="423.45" cy="433.88" r="1.35" fill="#fff" stroke="#ff0000" stroke-width="0.7"/>
<circle cx="468.1" cy="378.04" r="1.35" fill="#fff" stroke="#ff0000" stroke-width="0.7"/>
<path d="M289.5,472.16 L334.15,472.16 L378.8,470.53 L423.45,457.98 L468.1,407.28" fill="none" stroke="#008000" stroke-width="0.8" stroke-linejoin="round"/>
<circle cx="289.5" cy="472.16" r="1.35" fill="#fff" stroke="#008000" stroke-width="0.7"/>
<circle cx="334.15" cy="472.16" r="1.35" fill="#fff" stroke="#008000" stroke-width="0.7"/>
<circle cx="378.8" cy="470.53" r="1.35" fill="#fff" stroke="#008000" stroke-width="0.7"/>
<circle cx="423.45" cy="457.98" r="1.35" fill="#fff" stroke="#008000" stroke-width="0.7"/>
<circle cx="468.1" cy="407.28" r="1.35" fill="#fff" stroke="#008000" stroke-width="0.7"/>
<path d="M289.5,473.79 L334.15,473.79 L378.8,472.66 L423.45,464.76 L468.1,424.72" fill="none" stroke="#0000ff" stroke-width="0.8" stroke-linejoin="round"/>
<circle cx="289.5" cy="473.79" r="1.35" fill="#fff" stroke="#0000ff" stroke-width="0.7"/>
<circle cx="334.15" cy="473.79" r="1.35" fill="#fff" stroke="#0000ff" stroke-width="0.7"/>
<circle cx="378.8" cy="472.66" r="1.35" fill="#fff" stroke="#0000ff" stroke-width="0.7"/>
<circle cx="423.45" cy="464.76" r="1.35" fill="#fff" stroke="#0000ff" stroke-width="0.7"/>
<circle cx="468.1" cy="424.72" r="1.35" fill="#fff" stroke="#0000ff" stroke-width="0.7"/>
<path d="M289.5,474.55 L334.15,474.55 L378.8,473.54 L423.45,467.52 L468.1,433.88" fill="none" stroke="#ffa500" stroke-width="0.8" stroke-linejoin="round"/>
<circle cx="289.5" cy="474.55" r="1.35" fill="#fff" stroke="#ffa500" stroke-width="0.7"/>
<circle cx="334.15" cy="474.55" r="1.35" fill="#fff" stroke="#ffa500" stroke-width="0.7"/>
<circle cx="378.8" cy="473.54" r="1.35" fill="#fff" stroke="#ffa500" stroke-width="0.7"/>
<circle cx="423.45" cy="467.52" r="1.35" fill="#fff" stroke="#ffa500" stroke-width="0.7"/>
<circle cx="468.1" cy="433.88" r="1.35" fill="#fff" stroke="#ffa500" stroke-width="0.7"/>
<path d="M289.5,425.22 L334.15,425.98 L378.8,424.09 L423.45,416.81 L468.1,400" fill="none" stroke="#800080" stroke-width="0.8" stroke-linejoin="round"/>
<circle cx="289.5" cy="425.22" r="1.35" fill="#fff" stroke="#800080" stroke-width="0.7"/>
<circle cx="334.15" cy="425.98" r="1.35" fill="#fff" stroke="#800080" stroke-width="0.7"/>
<circle cx="378.8" cy="424.09" r="1.35" fill="#fff" stroke="#800080" stroke-width="0.7"/>
<circle cx="423.45" cy="416.81" r="1.35" fill="#fff" stroke="#800080" stroke-width="0.7"/>
<circle cx="468.1" cy="400" r="1.35" fill="#fff" stroke="#800080" stroke-width="0.7"/>
<rect x="280.4" y="347.6" width="196.6" height="132.7" fill="none" stroke="#1a1a1a" stroke-width="1.25"/>
<line x1="278" y1="475.8" x2="280.4" y2="475.8" stroke="#666" stroke-width="0.6"/>
<text x="276.7" y="479.81" font-size="10.2" font-family='"Liberation Sans", sans-serif' font-style="normal" text-anchor="end" fill="#1a1a1a" stroke="#1a1a1a" stroke-width="0.22" textLength="14.15" lengthAdjust="spacingAndGlyphs">0.0</text>
<line x1="278" y1="450.7" x2="280.4" y2="450.7" stroke="#666" stroke-width="0.6"/>
<text x="276.7" y="454.71" font-size="10.2" font-family='"Liberation Sans", sans-serif' font-style="normal" text-anchor="end" fill="#1a1a1a" stroke="#1a1a1a" stroke-width="0.22" textLength="14.15" lengthAdjust="spacingAndGlyphs">0.2</text>
<line x1="278" y1="425.6" x2="280.4" y2="425.6" stroke="#666" stroke-width="0.6"/>
<text x="276.7" y="429.61" font-size="10.2" font-family='"Liberation Sans", sans-serif' font-style="normal" text-anchor="end" fill="#1a1a1a" stroke="#1a1a1a" stroke-width="0.22" textLength="14.15" lengthAdjust="spacingAndGlyphs">0.4</text>
<line x1="278" y1="400.5" x2="280.4" y2="400.5" stroke="#666" stroke-width="0.6"/>
<text x="276.7" y="404.51" font-size="10.2" font-family='"Liberation Sans", sans-serif' font-style="normal" text-anchor="end" fill="#1a1a1a" stroke="#1a1a1a" stroke-width="0.22" textLength="14.15" lengthAdjust="spacingAndGlyphs">0.6</text>
<line x1="278" y1="375.4" x2="280.4" y2="375.4" stroke="#666" stroke-width="0.6"/>
<text x="276.7" y="379.41" font-size="10.2" font-family='"Liberation Sans", sans-serif' font-style="normal" text-anchor="end" fill="#1a1a1a" stroke="#1a1a1a" stroke-width="0.22" textLength="14.15" lengthAdjust="spacingAndGlyphs">0.8</text>
<line x1="278" y1="350.3" x2="280.4" y2="350.3" stroke="#666" stroke-width="0.6"/>
<text x="276.7" y="354.31" font-size="10.2" font-family='"Liberation Sans", sans-serif' font-style="normal" text-anchor="end" fill="#1a1a1a" stroke="#1a1a1a" stroke-width="0.22" textLength="14.15" lengthAdjust="spacingAndGlyphs">1.0</text>
<line x1="289.5" y1="480.3" x2="289.5" y2="482.7" stroke="#666" stroke-width="0.6"/>
<text x="289.5" y="491.9" font-size="10.2" font-family='"Liberation Sans", sans-serif' font-style="normal" text-anchor="middle" fill="#1a1a1a" stroke="#1a1a1a" stroke-width="0.22" textLength="5.66" lengthAdjust="spacingAndGlyphs">0</text>
<line x1="334.15" y1="480.3" x2="334.15" y2="482.7" stroke="#666" stroke-width="0.6"/>
<text x="334.15" y="491.9" font-size="10.2" font-family='"Liberation Sans", sans-serif' font-style="normal" text-anchor="middle" fill="#1a1a1a" stroke="#1a1a1a" stroke-width="0.22" textLength="5.66" lengthAdjust="spacingAndGlyphs">1</text>
<line x1="378.8" y1="480.3" x2="378.8" y2="482.7" stroke="#666" stroke-width="0.6"/>
<text x="378.8" y="491.9" font-size="10.2" font-family='"Liberation Sans", sans-serif' font-style="normal" text-anchor="middle" fill="#1a1a1a" stroke="#1a1a1a" stroke-width="0.22" textLength="5.66" lengthAdjust="spacingAndGlyphs">3</text>
<line x1="423.45" y1="480.3" x2="423.45" y2="482.7" stroke="#666" stroke-width="0.6"/>
<text x="423.45" y="491.9" font-size="10.2" font-family='"Liberation Sans", sans-serif' font-style="normal" text-anchor="middle" fill="#1a1a1a" stroke="#1a1a1a" stroke-width="0.22" textLength="5.66" lengthAdjust="spacingAndGlyphs">6</text>
<line x1="468.1" y1="480.3" x2="468.1" y2="482.7" stroke="#666" stroke-width="0.6"/>
<text x="468.1" y="491.9" font-size="10.2" font-family='"Liberation Sans", sans-serif' font-style="normal" text-anchor="middle" fill="#1a1a1a" stroke="#1a1a1a" stroke-width="0.22" textLength="11.32" lengthAdjust="spacingAndGlyphs">10</text>
<rect x="283.5" y="350.2" width="98" height="27.6" rx="1.5" fill="#fff" fill-opacity="0.8" stroke="#dcdcdc" stroke-width="0.8"/>
<circle cx="291.2" cy="355.1" r="1.15" fill="#fff" stroke="#000000" stroke-width="0.7"/>
<text x="301.9" y="357.3" font-size="6.2" font-family='"Liberation Sans", sans-serif' font-style="italic" fill="#333" textLength="3.9" lengthAdjust="spacingAndGlyphs">ϕ</text>
<text x="307.4" y="357.3" font-size="6.2" font-family='"Liberation Sans", sans-serif' font-style="normal" fill="#333" textLength="4.4" lengthAdjust="spacingAndGlyphs">=</text>
<text x="313.1" y="357.3" font-size="6.2" font-family='"Liberation Sans", sans-serif' font-style="normal" fill="#333" textLength="13.6" lengthAdjust="spacingAndGlyphs">0.09</text>
<circle cx="291.2" cy="363.7" r="1.15" fill="#fff" stroke="#ff0000" stroke-width="0.7"/>
<text x="301.9" y="365.9" font-size="6.2" font-family='"Liberation Sans", sans-serif' font-style="italic" fill="#333" textLength="3.9" lengthAdjust="spacingAndGlyphs">ϕ</text>
<text x="307.4" y="365.9" font-size="6.2" font-family='"Liberation Sans", sans-serif' font-style="normal" fill="#333" textLength="4.4" lengthAdjust="spacingAndGlyphs">=</text>
<text x="313.1" y="365.9" font-size="6.2" font-family='"Liberation Sans", sans-serif' font-style="normal" fill="#333" textLength="13.6" lengthAdjust="spacingAndGlyphs">0.14</text>
<circle cx="291.2" cy="372.3" r="1.15" fill="#fff" stroke="#008000" stroke-width="0.7"/>
<text x="301.9" y="374.5" font-size="6.2" font-family='"Liberation Sans", sans-serif' font-style="italic" fill="#333" textLength="3.9" lengthAdjust="spacingAndGlyphs">ϕ</text>
<text x="307.4" y="374.5" font-size="6.2" font-family='"Liberation Sans", sans-serif' font-style="normal" fill="#333" textLength="4.4" lengthAdjust="spacingAndGlyphs">=</text>
<text x="313.1" y="374.5" font-size="6.2" font-family='"Liberation Sans", sans-serif' font-style="normal" fill="#333" textLength="13.6" lengthAdjust="spacingAndGlyphs">0.19</text>
<circle cx="343.8" cy="355.1" r="1.15" fill="#fff" stroke="#0000ff" stroke-width="0.7"/>
<text x="354" y="357.3" font-size="6.2" font-family='"Liberation Sans", sans-serif' font-style="italic" fill="#333" textLength="3.9" lengthAdjust="spacingAndGlyphs">ϕ</text>
<text x="359.5" y="357.3" font-size="6.2" font-family='"Liberation Sans", sans-serif' font-style="normal" fill="#333" textLength="4.4" lengthAdjust="spacingAndGlyphs">=</text>
<text x="365.2" y="357.3" font-size="6.2" font-family='"Liberation Sans", sans-serif' font-style="normal" fill="#333" textLength="13.6" lengthAdjust="spacingAndGlyphs">0.24</text>
<circle cx="343.8" cy="363.7" r="1.15" fill="#fff" stroke="#ffa500" stroke-width="0.7"/>
<text x="354" y="365.9" font-size="6.2" font-family='"Liberation Sans", sans-serif' font-style="italic" fill="#333" textLength="3.9" lengthAdjust="spacingAndGlyphs">ϕ</text>
<text x="359.5" y="365.9" font-size="6.2" font-family='"Liberation Sans", sans-serif' font-style="normal" fill="#333" textLength="4.4" lengthAdjust="spacingAndGlyphs">=</text>
<text x="365.2" y="365.9" font-size="6.2" font-family='"Liberation Sans", sans-serif' font-style="normal" fill="#333" textLength="13.6" lengthAdjust="spacingAndGlyphs">0.31</text>
<circle cx="343.8" cy="372.3" r="1.15" fill="#fff" stroke="#800080" stroke-width="0.7"/>
<text x="354" y="374.5" font-size="6.2" font-family='"Liberation Sans", sans-serif' font-style="italic" fill="#333" textLength="3.9" lengthAdjust="spacingAndGlyphs">ϕ</text>
<text x="359.5" y="374.5" font-size="6.2" font-family='"Liberation Sans", sans-serif' font-style="normal" fill="#333" textLength="4.4" lengthAdjust="spacingAndGlyphs">=</text>
<text x="365.2" y="374.5" font-size="6.2" font-family='"Liberation Sans", sans-serif' font-style="normal" fill="#333" textLength="13.6" lengthAdjust="spacingAndGlyphs">0.44</text>
<text x="289.6" y="393.9" font-size="10.2" font-family='"Liberation Sans", sans-serif' font-style="italic" fill="#111" textLength="5.3" lengthAdjust="spacingAndGlyphs">ε</text>
<text x="295.3" y="395.6" font-size="7.0" font-family='"Liberation Sans", sans-serif' font-style="italic" fill="#111" textLength="3.8" lengthAdjust="spacingAndGlyphs">a</text>
<text x="299.8" y="393.9" font-size="10.2" font-family='"Liberation Sans", sans-serif' font-style="normal" fill="#111" textLength="6.1" lengthAdjust="spacingAndGlyphs">=</text>
<text x="307.5" y="393.9" font-size="9.8" font-family='"Liberation Sans", sans-serif' font-style="normal" fill="#111" textLength="10.7" lengthAdjust="spacingAndGlyphs">10</text>
<text x="472.5" y="472.5" font-size="13.7" font-family='"Liberation Serif", serif' font-style="normal" text-anchor="end" fill="#000" stroke="#000" stroke-width="0.12">(h)</text>
<g transform="translate(256.1,414) rotate(-90)">
<text x="0" y="0" font-size="14.5" font-family='"Liberation Sans", sans-serif' font-style="italic" text-anchor="middle" fill="#000" stroke="#000" stroke-width="0.3">D</text>
<path d="M-0.71,-12.06 C0.06,-13.85 0.99,-13.51 1.5,-13 C2.01,-12.49 2.95,-12.15 3.71,-13.94" fill="none" stroke="#000" stroke-width="0.85" stroke-linecap="round"/>
</g>
<text x="370.4" y="505.5" font-size="15.2" font-family='"Liberation Sans", sans-serif' font-style="italic" text-anchor="start" fill="#000"  textLength="17.1" lengthAdjust="spacingAndGlyphs">Pe</text>
<rect x="518.4" y="349.5" width="122.9" height="129.9" fill="#355f8d"/>
<polygon points="531.8,479.4 532.2,467 533.2,453.3 534.6,439.5 536.6,424.4 542.8,412 548.9,402.3 554.2,393.7 571.3,382.8 580,380.6 597.8,376 614.9,385.8 620.8,401 623.4,412 626.9,439.5 627.5,479.4" fill="#482475" stroke="#482475" stroke-width="0.3"/>
<polygon points="571.3,349.5 554.2,366.7 543.7,382.5 537.1,394.4 534.4,402.3 532.2,412 530.5,425.8 528.4,439.5 526.3,453.3 525.4,467 524.9,479.4 518.4,479.4 518.4,349.5" fill="#21918c" stroke="#21918c" stroke-width="0.3"/>
<polygon points="548.9,349.5 536.4,370 533.1,386.5 529.2,402.3 525.9,412 524.3,425.8 522.2,439.5 520.1,451.9 518.4,457.4 518.4,349.5" fill="#44bf70" stroke="#44bf70" stroke-width="0.3"/>
<polygon points="533.8,349.5 531.8,360.2 527.2,378.6 523.2,393.1 520,408.9 518.4,414 518.4,349.5" fill="#bddf26" stroke="#bddf26" stroke-width="0.3"/>
<polygon points="616.8,349.5 624.1,369.4 635.9,399.6 638.3,412 640.6,431.3 641.3,432.6 641.3,349.5" fill="#21918c" stroke="#21918c" stroke-width="0.3"/>
<rect x="518.4" y="349.5" width="122.9" height="129.9" fill="none" stroke="#111" stroke-width="1.2"/>
<line x1="516" y1="479.4" x2="518.4" y2="479.4" stroke="#666" stroke-width="0.6"/>
<text x="514.7" y="483.41" font-size="10.2" font-family='"Liberation Sans", sans-serif' font-style="normal" text-anchor="end" fill="#1a1a1a" stroke="#1a1a1a" stroke-width="0.22" textLength="5.66" lengthAdjust="spacingAndGlyphs">0</text>
<line x1="516" y1="466.41" x2="518.4" y2="466.41" stroke="#666" stroke-width="0.6"/>
<text x="514.7" y="470.42" font-size="10.2" font-family='"Liberation Sans", sans-serif' font-style="normal" text-anchor="end" fill="#1a1a1a" stroke="#1a1a1a" stroke-width="0.22" textLength="5.66" lengthAdjust="spacingAndGlyphs">1</text>
<line x1="516" y1="440.43" x2="518.4" y2="440.43" stroke="#666" stroke-width="0.6"/>
<text x="514.7" y="444.44" font-size="10.2" font-family='"Liberation Sans", sans-serif' font-style="normal" text-anchor="end" fill="#1a1a1a" stroke="#1a1a1a" stroke-width="0.22" textLength="5.66" lengthAdjust="spacingAndGlyphs">3</text>
<line x1="516" y1="401.46" x2="518.4" y2="401.46" stroke="#666" stroke-width="0.6"/>
<text x="514.7" y="405.47" font-size="10.2" font-family='"Liberation Sans", sans-serif' font-style="normal" text-anchor="end" fill="#1a1a1a" stroke="#1a1a1a" stroke-width="0.22" textLength="5.66" lengthAdjust="spacingAndGlyphs">6</text>
<line x1="516" y1="349.5" x2="518.4" y2="349.5" stroke="#666" stroke-width="0.6"/>
<text x="514.7" y="353.51" font-size="10.2" font-family='"Liberation Sans", sans-serif' font-style="normal" text-anchor="end" fill="#1a1a1a" stroke="#1a1a1a" stroke-width="0.22" textLength="11.32" lengthAdjust="spacingAndGlyphs">10</text>
<line x1="535.95" y1="479.4" x2="535.95" y2="481.8" stroke="#666" stroke-width="0.6"/>
<text x="535.95" y="491" font-size="10.2" font-family='"Liberation Sans", sans-serif' font-style="normal" text-anchor="middle" fill="#1a1a1a" stroke="#1a1a1a" stroke-width="0.22" textLength="19.82" lengthAdjust="spacingAndGlyphs">0.14</text>
<line x1="571.06" y1="479.4" x2="571.06" y2="481.8" stroke="#666" stroke-width="0.6"/>
<text x="571.06" y="491" font-size="10.2" font-family='"Liberation Sans", sans-serif' font-style="normal" text-anchor="middle" fill="#1a1a1a" stroke="#1a1a1a" stroke-width="0.22" textLength="19.82" lengthAdjust="spacingAndGlyphs">0.24</text>
<line x1="613.2" y1="479.4" x2="613.2" y2="481.8" stroke="#666" stroke-width="0.6"/>
<text x="613.2" y="491" font-size="10.2" font-family='"Liberation Sans", sans-serif' font-style="normal" text-anchor="middle" fill="#1a1a1a" stroke="#1a1a1a" stroke-width="0.22" textLength="19.82" lengthAdjust="spacingAndGlyphs">0.36</text>
<line x1="641.28" y1="479.4" x2="641.28" y2="481.8" stroke="#666" stroke-width="0.6"/>
<text x="641.28" y="491" font-size="10.2" font-family='"Liberation Sans", sans-serif' font-style="normal" text-anchor="middle" fill="#1a1a1a" stroke="#1a1a1a" stroke-width="0.22" textLength="19.82" lengthAdjust="spacingAndGlyphs">0.44</text>
<text x="639" y="473.1" font-size="13.7" font-family='"Liberation Serif", serif' font-style="normal" text-anchor="end" fill="#fff" stroke="#fff" stroke-width="0.0">(i)</text>
<text x="576.3" y="505" font-size="14" font-family='"Liberation Sans", sans-serif' font-style="italic" text-anchor="start" fill="#000" >ϕ</text>
<g transform="translate(498.7,414.3) rotate(-90)">
<text x="0" y="0" font-size="15.6" font-family='"Liberation Sans", sans-serif' font-style="italic" text-anchor="middle" fill="#000" textLength="17.4" lengthAdjust="spacingAndGlyphs">Pe</text>
</g>
<rect x="649.6" y="453.34" width="3.1" height="26.26" fill="#482475"/>
<rect x="649.6" y="427.38" width="3.1" height="26.26" fill="#355f8d"/>
<rect x="649.6" y="401.42" width="3.1" height="26.26" fill="#21918c"/>
<rect x="649.6" y="375.46" width="3.1" height="26.26" fill="#44bf70"/>
<rect x="649.6" y="349.5" width="3.1" height="26.26" fill="#bddf26"/>
<rect x="649.6" y="349.5" width="3.1" height="129.8" fill="none" stroke="#111" stroke-width="1.05"/>
<line x1="652.7" y1="479.3" x2="654.9" y2="479.3" stroke="#666" stroke-width="0.6"/>
<text x="656.5" y="483.31" font-size="10.2" font-family='"Liberation Sans", sans-serif' font-style="normal" text-anchor="start" fill="#1a1a1a" stroke="#1a1a1a" stroke-width="0.22" textLength="14.15" lengthAdjust="spacingAndGlyphs">0.0</text>
<line x1="652.7" y1="453.34" x2="654.9" y2="453.34" stroke="#666" stroke-width="0.6"/>
<text x="656.5" y="457.35" font-size="10.2" font-family='"Liberation Sans", sans-serif' font-style="normal" text-anchor="start" fill="#1a1a1a" stroke="#1a1a1a" stroke-width="0.22" textLength="14.15" lengthAdjust="spacingAndGlyphs">0.2</text>
<line x1="652.7" y1="427.38" x2="654.9" y2="427.38" stroke="#666" stroke-width="0.6"/>
<text x="656.5" y="431.39" font-size="10.2" font-family='"Liberation Sans", sans-serif' font-style="normal" text-anchor="start" fill="#1a1a1a" stroke="#1a1a1a" stroke-width="0.22" textLength="14.15" lengthAdjust="spacingAndGlyphs">0.4</text>
<line x1="652.7" y1="401.42" x2="654.9" y2="401.42" stroke="#666" stroke-width="0.6"/>
<text x="656.5" y="405.43" font-size="10.2" font-family='"Liberation Sans", sans-serif' font-style="normal" text-anchor="start" fill="#1a1a1a" stroke="#1a1a1a" stroke-width="0.22" textLength="14.15" lengthAdjust="spacingAndGlyphs">0.6</text>
<line x1="652.7" y1="375.46" x2="654.9" y2="375.46" stroke="#666" stroke-width="0.6"/>
<text x="656.5" y="379.47" font-size="10.2" font-family='"Liberation Sans", sans-serif' font-style="normal" text-anchor="start" fill="#1a1a1a" stroke="#1a1a1a" stroke-width="0.22" textLength="14.15" lengthAdjust="spacingAndGlyphs">0.8</text>
<line x1="652.7" y1="349.5" x2="654.9" y2="349.5" stroke="#666" stroke-width="0.6"/>
<text x="656.5" y="353.51" font-size="10.2" font-family='"Liberation Sans", sans-serif' font-style="normal" text-anchor="start" fill="#1a1a1a" stroke="#1a1a1a" stroke-width="0.22" textLength="14.15" lengthAdjust="spacingAndGlyphs">1.0</text>
<g transform="translate(682.9,414.5) rotate(-90)">
<text x="0" y="0" font-size="12.7" font-family='"Liberation Sans", sans-serif' font-style="italic" text-anchor="middle" fill="#000" stroke="#000" stroke-width="0.3">D</text>
<path d="M-0.62,-10.57 C0.05,-12.13 0.87,-11.83 1.31,-11.39 C1.76,-10.94 2.58,-10.64 3.25,-12.21" fill="none" stroke="#000" stroke-width="0.74" stroke-linecap="round"/>
</g>
</svg></body></html>
